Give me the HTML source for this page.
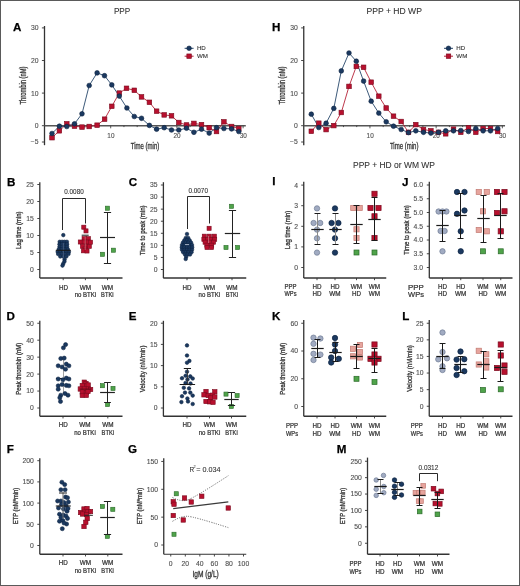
<!DOCTYPE html>
<html><head><meta charset="utf-8"><style>
html,body{margin:0;padding:0;background:#fff;}
svg{display:block;font-family:"Liberation Sans", sans-serif;will-change:transform;}
</style></head><body>
<svg width="520" height="586" viewBox="0 0 520 586" font-family='"Liberation Sans", sans-serif'>
<rect x="0" y="0" width="520" height="586" fill="#fff"/>
<text x="122.1" y="13.9" font-size="8.4" text-anchor="middle" font-weight="normal" fill="#333" textLength="16.4" lengthAdjust="spacingAndGlyphs" stroke="#333" stroke-width="0.08">PPP</text>
<text x="394.2" y="13.9" font-size="8.4" text-anchor="middle" font-weight="normal" fill="#333" textLength="55.4" lengthAdjust="spacingAndGlyphs" stroke="#333" stroke-width="0.08">PPP + HD WP</text>
<text x="394.0" y="168.0" font-size="8.4" text-anchor="middle" font-weight="normal" fill="#333" textLength="82" lengthAdjust="spacingAndGlyphs" stroke="#333" stroke-width="0.08">PPP + HD or WM WP</text>
<text x="13.1" y="31.2" font-size="11.6" font-weight="bold" fill="#000" stroke="#000" stroke-width="0.25">A</text>
<text x="272.1" y="31.2" font-size="11.6" font-weight="bold" fill="#000" stroke="#000" stroke-width="0.25">H</text>
<line x1="44.5" y1="26.0" x2="44.5" y2="145.2" stroke="#333" stroke-width="1.3"/>
<line x1="41.9" y1="27.900000000000006" x2="44.5" y2="27.900000000000006" stroke="#333" stroke-width="0.9"/>
<text x="38.6" y="30.300000000000004" font-size="6.8" text-anchor="end" font-weight="normal" fill="#505050" stroke="#505050" stroke-width="0.12">30</text>
<line x1="41.9" y1="60.500000000000014" x2="44.5" y2="60.500000000000014" stroke="#333" stroke-width="0.9"/>
<text x="38.6" y="62.90000000000001" font-size="6.8" text-anchor="end" font-weight="normal" fill="#505050" stroke="#505050" stroke-width="0.12">20</text>
<line x1="41.9" y1="93.10000000000001" x2="44.5" y2="93.10000000000001" stroke="#333" stroke-width="0.9"/>
<text x="38.6" y="95.50000000000001" font-size="6.8" text-anchor="end" font-weight="normal" fill="#505050" stroke="#505050" stroke-width="0.12">10</text>
<line x1="41.9" y1="125.7" x2="44.5" y2="125.7" stroke="#333" stroke-width="0.9"/>
<text x="38.6" y="128.1" font-size="6.8" text-anchor="end" font-weight="normal" fill="#505050" stroke="#505050" stroke-width="0.12">0</text>
<line x1="41.9" y1="142.0" x2="44.5" y2="142.0" stroke="#333" stroke-width="0.9"/>
<text x="38.6" y="144.4" font-size="6.8" text-anchor="end" font-weight="normal" fill="#505050" stroke="#505050" stroke-width="0.12">−5</text>
<line x1="44.5" y1="125.7" x2="245.8" y2="125.7" stroke="#555" stroke-width="1.4"/>
<line x1="57.74" y1="125.7" x2="57.74" y2="127.10000000000001" stroke="#333" stroke-width="0.8"/>
<line x1="70.98" y1="125.7" x2="70.98" y2="127.10000000000001" stroke="#333" stroke-width="0.8"/>
<line x1="84.22" y1="125.7" x2="84.22" y2="127.10000000000001" stroke="#333" stroke-width="0.8"/>
<line x1="97.46000000000001" y1="125.7" x2="97.46000000000001" y2="127.10000000000001" stroke="#333" stroke-width="0.8"/>
<line x1="110.7" y1="125.7" x2="110.7" y2="128.3" stroke="#333" stroke-width="0.8"/>
<line x1="123.94" y1="125.7" x2="123.94" y2="127.10000000000001" stroke="#333" stroke-width="0.8"/>
<line x1="137.18" y1="125.7" x2="137.18" y2="127.10000000000001" stroke="#333" stroke-width="0.8"/>
<line x1="150.42000000000002" y1="125.7" x2="150.42000000000002" y2="127.10000000000001" stroke="#333" stroke-width="0.8"/>
<line x1="163.66" y1="125.7" x2="163.66" y2="127.10000000000001" stroke="#333" stroke-width="0.8"/>
<line x1="176.9" y1="125.7" x2="176.9" y2="128.3" stroke="#333" stroke-width="0.8"/>
<line x1="190.14000000000001" y1="125.7" x2="190.14000000000001" y2="127.10000000000001" stroke="#333" stroke-width="0.8"/>
<line x1="203.38" y1="125.7" x2="203.38" y2="127.10000000000001" stroke="#333" stroke-width="0.8"/>
<line x1="216.62" y1="125.7" x2="216.62" y2="127.10000000000001" stroke="#333" stroke-width="0.8"/>
<line x1="229.86" y1="125.7" x2="229.86" y2="127.10000000000001" stroke="#333" stroke-width="0.8"/>
<line x1="243.1" y1="125.7" x2="243.1" y2="128.3" stroke="#333" stroke-width="0.8"/>
<text x="110.9" y="137.5" font-size="6.4" text-anchor="middle" font-weight="normal" fill="#505050" stroke="#505050" stroke-width="0.12">10</text>
<text x="177.1" y="137.5" font-size="6.4" text-anchor="middle" font-weight="normal" fill="#505050" stroke="#505050" stroke-width="0.12">20</text>
<text x="243.29999999999998" y="137.5" font-size="6.4" text-anchor="middle" font-weight="normal" fill="#505050" stroke="#505050" stroke-width="0.12">30</text>
<text x="145.0" y="149.2" font-size="8.6" text-anchor="middle" font-weight="normal" fill="#333" textLength="28.6" lengthAdjust="spacingAndGlyphs" stroke="#333" stroke-width="0.3">Time (min)</text>
<text transform="translate(26.0,85.5) rotate(-90)" x="0" y="0" font-size="8.2" text-anchor="middle" font-weight="normal" fill="#333" textLength="38" lengthAdjust="spacingAndGlyphs" stroke="#333" stroke-width="0.3">Thrombin (nM)</text>
<polyline points="52.0,137.7 59.4,130.8 66.8,123.8 74.5,126.2 82.0,127.1 89.2,126.5 97.1,125.2 104.6,119.2 111.8,106.3 119.3,93.1 126.5,88.3 134.3,90.3 141.5,96.9 149.4,102.3 156.6,111.2 164.2,114.9 171.5,115.8 178.8,122.5 186.5,125.0 193.9,123.4 201.5,124.6 209.2,127.7 216.5,131.5 223.9,121.8 231.6,126.5 238.8,128.5" fill="none" stroke="#b52238" stroke-width="0.9"/>
<polyline points="52.0,133.5 59.4,126.2 66.8,126.5 74.5,123.8 82.0,113.8 89.2,85.5 97.1,72.9 104.5,75.7 111.8,84.9 119.3,96.1 126.9,108 134.3,116.5 141.5,118.3 149.4,125.4 156.6,129.2 164.2,127.7 171.5,130 178.8,130 186.5,128.2 193.9,132.3 201.5,129.2 209.2,133.1 216.5,127.7 223.9,128.5 231.6,128.9 238.8,131.5" fill="none" stroke="#27476b" stroke-width="0.9"/>
<rect x="49.7" y="135.39999999999998" width="4.6" height="4.6" fill="#b8102e" stroke="#7a0a1e" stroke-width="0.6"/>
<rect x="57.1" y="128.5" width="4.6" height="4.6" fill="#b8102e" stroke="#7a0a1e" stroke-width="0.6"/>
<rect x="64.5" y="121.5" width="4.6" height="4.6" fill="#b8102e" stroke="#7a0a1e" stroke-width="0.6"/>
<rect x="72.2" y="123.9" width="4.6" height="4.6" fill="#b8102e" stroke="#7a0a1e" stroke-width="0.6"/>
<rect x="79.7" y="124.8" width="4.6" height="4.6" fill="#b8102e" stroke="#7a0a1e" stroke-width="0.6"/>
<rect x="86.9" y="124.2" width="4.6" height="4.6" fill="#b8102e" stroke="#7a0a1e" stroke-width="0.6"/>
<rect x="94.8" y="122.9" width="4.6" height="4.6" fill="#b8102e" stroke="#7a0a1e" stroke-width="0.6"/>
<rect x="102.3" y="116.9" width="4.6" height="4.6" fill="#b8102e" stroke="#7a0a1e" stroke-width="0.6"/>
<rect x="109.5" y="104.0" width="4.6" height="4.6" fill="#b8102e" stroke="#7a0a1e" stroke-width="0.6"/>
<rect x="117.0" y="90.8" width="4.6" height="4.6" fill="#b8102e" stroke="#7a0a1e" stroke-width="0.6"/>
<rect x="124.2" y="86.0" width="4.6" height="4.6" fill="#b8102e" stroke="#7a0a1e" stroke-width="0.6"/>
<rect x="132.0" y="88.0" width="4.6" height="4.6" fill="#b8102e" stroke="#7a0a1e" stroke-width="0.6"/>
<rect x="139.2" y="94.60000000000001" width="4.6" height="4.6" fill="#b8102e" stroke="#7a0a1e" stroke-width="0.6"/>
<rect x="147.1" y="100.0" width="4.6" height="4.6" fill="#b8102e" stroke="#7a0a1e" stroke-width="0.6"/>
<rect x="154.29999999999998" y="108.9" width="4.6" height="4.6" fill="#b8102e" stroke="#7a0a1e" stroke-width="0.6"/>
<rect x="161.89999999999998" y="112.60000000000001" width="4.6" height="4.6" fill="#b8102e" stroke="#7a0a1e" stroke-width="0.6"/>
<rect x="169.2" y="113.5" width="4.6" height="4.6" fill="#b8102e" stroke="#7a0a1e" stroke-width="0.6"/>
<rect x="176.5" y="120.2" width="4.6" height="4.6" fill="#b8102e" stroke="#7a0a1e" stroke-width="0.6"/>
<rect x="184.2" y="122.7" width="4.6" height="4.6" fill="#b8102e" stroke="#7a0a1e" stroke-width="0.6"/>
<rect x="191.6" y="121.10000000000001" width="4.6" height="4.6" fill="#b8102e" stroke="#7a0a1e" stroke-width="0.6"/>
<rect x="199.2" y="122.3" width="4.6" height="4.6" fill="#b8102e" stroke="#7a0a1e" stroke-width="0.6"/>
<rect x="206.89999999999998" y="125.4" width="4.6" height="4.6" fill="#b8102e" stroke="#7a0a1e" stroke-width="0.6"/>
<rect x="214.2" y="129.2" width="4.6" height="4.6" fill="#b8102e" stroke="#7a0a1e" stroke-width="0.6"/>
<rect x="221.6" y="119.5" width="4.6" height="4.6" fill="#b8102e" stroke="#7a0a1e" stroke-width="0.6"/>
<rect x="229.29999999999998" y="124.2" width="4.6" height="4.6" fill="#b8102e" stroke="#7a0a1e" stroke-width="0.6"/>
<rect x="236.5" y="126.2" width="4.6" height="4.6" fill="#b8102e" stroke="#7a0a1e" stroke-width="0.6"/>
<circle cx="52.0" cy="133.5" r="2.35" fill="#1b3960" stroke="#0c2240" stroke-width="0.6"/>
<circle cx="59.4" cy="126.2" r="2.35" fill="#1b3960" stroke="#0c2240" stroke-width="0.6"/>
<circle cx="66.8" cy="126.5" r="2.35" fill="#1b3960" stroke="#0c2240" stroke-width="0.6"/>
<circle cx="74.5" cy="123.8" r="2.35" fill="#1b3960" stroke="#0c2240" stroke-width="0.6"/>
<circle cx="82.0" cy="113.8" r="2.35" fill="#1b3960" stroke="#0c2240" stroke-width="0.6"/>
<circle cx="89.2" cy="85.5" r="2.35" fill="#1b3960" stroke="#0c2240" stroke-width="0.6"/>
<circle cx="97.1" cy="72.9" r="2.35" fill="#1b3960" stroke="#0c2240" stroke-width="0.6"/>
<circle cx="104.5" cy="75.7" r="2.35" fill="#1b3960" stroke="#0c2240" stroke-width="0.6"/>
<circle cx="111.8" cy="84.9" r="2.35" fill="#1b3960" stroke="#0c2240" stroke-width="0.6"/>
<circle cx="119.3" cy="96.1" r="2.35" fill="#1b3960" stroke="#0c2240" stroke-width="0.6"/>
<circle cx="126.9" cy="108" r="2.35" fill="#1b3960" stroke="#0c2240" stroke-width="0.6"/>
<circle cx="134.3" cy="116.5" r="2.35" fill="#1b3960" stroke="#0c2240" stroke-width="0.6"/>
<circle cx="141.5" cy="118.3" r="2.35" fill="#1b3960" stroke="#0c2240" stroke-width="0.6"/>
<circle cx="149.4" cy="125.4" r="2.35" fill="#1b3960" stroke="#0c2240" stroke-width="0.6"/>
<circle cx="156.6" cy="129.2" r="2.35" fill="#1b3960" stroke="#0c2240" stroke-width="0.6"/>
<circle cx="164.2" cy="127.7" r="2.35" fill="#1b3960" stroke="#0c2240" stroke-width="0.6"/>
<circle cx="171.5" cy="130" r="2.35" fill="#1b3960" stroke="#0c2240" stroke-width="0.6"/>
<circle cx="178.8" cy="130" r="2.35" fill="#1b3960" stroke="#0c2240" stroke-width="0.6"/>
<circle cx="186.5" cy="128.2" r="2.35" fill="#1b3960" stroke="#0c2240" stroke-width="0.6"/>
<circle cx="193.9" cy="132.3" r="2.35" fill="#1b3960" stroke="#0c2240" stroke-width="0.6"/>
<circle cx="201.5" cy="129.2" r="2.35" fill="#1b3960" stroke="#0c2240" stroke-width="0.6"/>
<circle cx="209.2" cy="133.1" r="2.35" fill="#1b3960" stroke="#0c2240" stroke-width="0.6"/>
<circle cx="216.5" cy="127.7" r="2.35" fill="#1b3960" stroke="#0c2240" stroke-width="0.6"/>
<circle cx="223.9" cy="128.5" r="2.35" fill="#1b3960" stroke="#0c2240" stroke-width="0.6"/>
<circle cx="231.6" cy="128.9" r="2.35" fill="#1b3960" stroke="#0c2240" stroke-width="0.6"/>
<circle cx="238.8" cy="131.5" r="2.35" fill="#1b3960" stroke="#0c2240" stroke-width="0.6"/>
<line x1="184.6" y1="48.3" x2="193.6" y2="48.3" stroke="#27476b" stroke-width="1"/>
<circle cx="189.1" cy="48.3" r="2.3" fill="#1b3960" stroke="#0c2240" stroke-width="0.6"/>
<line x1="184.6" y1="56.2" x2="193.6" y2="56.2" stroke="#b52238" stroke-width="1"/>
<rect x="186.85" y="53.95" width="4.5" height="4.5" fill="#b8102e" stroke="#7a0a1e" stroke-width="0.6"/>
<text x="196.9" y="50.2" font-size="5.9" text-anchor="start" font-weight="normal" fill="#333" textLength="8.9" lengthAdjust="spacingAndGlyphs" stroke="#333" stroke-width="0.1">HD</text>
<text x="196.9" y="58.1" font-size="5.9" text-anchor="start" font-weight="normal" fill="#333" textLength="11.0" lengthAdjust="spacingAndGlyphs" stroke="#333" stroke-width="0.1">WM</text>
<line x1="303.75" y1="26.0" x2="303.75" y2="145.2" stroke="#333" stroke-width="1.3"/>
<line x1="301.15" y1="27.900000000000006" x2="303.75" y2="27.900000000000006" stroke="#333" stroke-width="0.9"/>
<text x="297.85" y="30.300000000000004" font-size="6.8" text-anchor="end" font-weight="normal" fill="#505050" stroke="#505050" stroke-width="0.12">30</text>
<line x1="301.15" y1="60.500000000000014" x2="303.75" y2="60.500000000000014" stroke="#333" stroke-width="0.9"/>
<text x="297.85" y="62.90000000000001" font-size="6.8" text-anchor="end" font-weight="normal" fill="#505050" stroke="#505050" stroke-width="0.12">20</text>
<line x1="301.15" y1="93.10000000000001" x2="303.75" y2="93.10000000000001" stroke="#333" stroke-width="0.9"/>
<text x="297.85" y="95.50000000000001" font-size="6.8" text-anchor="end" font-weight="normal" fill="#505050" stroke="#505050" stroke-width="0.12">10</text>
<line x1="301.15" y1="125.7" x2="303.75" y2="125.7" stroke="#333" stroke-width="0.9"/>
<text x="297.85" y="128.1" font-size="6.8" text-anchor="end" font-weight="normal" fill="#505050" stroke="#505050" stroke-width="0.12">0</text>
<line x1="301.15" y1="142.0" x2="303.75" y2="142.0" stroke="#333" stroke-width="0.9"/>
<text x="297.85" y="144.4" font-size="6.8" text-anchor="end" font-weight="normal" fill="#505050" stroke="#505050" stroke-width="0.12">−5</text>
<line x1="303.75" y1="125.7" x2="505.05" y2="125.7" stroke="#555" stroke-width="1.4"/>
<line x1="316.99" y1="125.7" x2="316.99" y2="127.10000000000001" stroke="#333" stroke-width="0.8"/>
<line x1="330.23" y1="125.7" x2="330.23" y2="127.10000000000001" stroke="#333" stroke-width="0.8"/>
<line x1="343.47" y1="125.7" x2="343.47" y2="127.10000000000001" stroke="#333" stroke-width="0.8"/>
<line x1="356.71" y1="125.7" x2="356.71" y2="127.10000000000001" stroke="#333" stroke-width="0.8"/>
<line x1="369.95" y1="125.7" x2="369.95" y2="128.3" stroke="#333" stroke-width="0.8"/>
<line x1="383.19" y1="125.7" x2="383.19" y2="127.10000000000001" stroke="#333" stroke-width="0.8"/>
<line x1="396.43" y1="125.7" x2="396.43" y2="127.10000000000001" stroke="#333" stroke-width="0.8"/>
<line x1="409.67" y1="125.7" x2="409.67" y2="127.10000000000001" stroke="#333" stroke-width="0.8"/>
<line x1="422.90999999999997" y1="125.7" x2="422.90999999999997" y2="127.10000000000001" stroke="#333" stroke-width="0.8"/>
<line x1="436.15" y1="125.7" x2="436.15" y2="128.3" stroke="#333" stroke-width="0.8"/>
<line x1="449.39" y1="125.7" x2="449.39" y2="127.10000000000001" stroke="#333" stroke-width="0.8"/>
<line x1="462.63" y1="125.7" x2="462.63" y2="127.10000000000001" stroke="#333" stroke-width="0.8"/>
<line x1="475.87" y1="125.7" x2="475.87" y2="127.10000000000001" stroke="#333" stroke-width="0.8"/>
<line x1="489.11" y1="125.7" x2="489.11" y2="127.10000000000001" stroke="#333" stroke-width="0.8"/>
<line x1="502.35" y1="125.7" x2="502.35" y2="128.3" stroke="#333" stroke-width="0.8"/>
<text x="370.15" y="137.5" font-size="6.4" text-anchor="middle" font-weight="normal" fill="#505050" stroke="#505050" stroke-width="0.12">10</text>
<text x="436.34999999999997" y="137.5" font-size="6.4" text-anchor="middle" font-weight="normal" fill="#505050" stroke="#505050" stroke-width="0.12">20</text>
<text x="502.55" y="137.5" font-size="6.4" text-anchor="middle" font-weight="normal" fill="#505050" stroke="#505050" stroke-width="0.12">30</text>
<text x="404.2" y="149.2" font-size="8.6" text-anchor="middle" font-weight="normal" fill="#333" textLength="28.6" lengthAdjust="spacingAndGlyphs" stroke="#333" stroke-width="0.3">Time (min)</text>
<text transform="translate(285.25,85.5) rotate(-90)" x="0" y="0" font-size="8.2" text-anchor="middle" font-weight="normal" fill="#333" textLength="38" lengthAdjust="spacingAndGlyphs" stroke="#333" stroke-width="0.3">Thrombin (nM)</text>
<polyline points="311.3,131.3 318.8,123.2 326.1,129.6 333.8,125.6 341.3,112.5 349,86.4 356.3,66.4 363.6,67.3 371.2,82.2 378.8,96.2 386.2,108 393.5,116.2 401.2,121.5 408.5,132.3 415.8,124.6 423.5,129.5 430.9,130.8 438.5,132.3 445.7,133.8 453.5,129.2 460.8,132.3 468.5,127.7 475.8,132.3 483.1,128.5 490.5,128.5 497.7,131.5" fill="none" stroke="#b52238" stroke-width="0.9"/>
<polyline points="311.3,114.2 318.8,127.5 326.1,123.2 333.8,108.4 341.3,70.9 349,53 356.3,61.2 363.6,81.1 371.2,101.2 378.8,113.1 386.2,121.8 393.5,126.2 401.2,129.5 408.5,132.6 415.8,130.8 423.5,132.3 430.9,133.1 438.5,132.3 445.7,130.8 453.5,130.8 460.8,130.5 468.5,131.5 475.8,128.5 483.1,130.8 490.5,130.8 497.7,128.5" fill="none" stroke="#27476b" stroke-width="0.9"/>
<rect x="309.0" y="129.0" width="4.6" height="4.6" fill="#b8102e" stroke="#7a0a1e" stroke-width="0.6"/>
<rect x="316.5" y="120.9" width="4.6" height="4.6" fill="#b8102e" stroke="#7a0a1e" stroke-width="0.6"/>
<rect x="323.8" y="127.3" width="4.6" height="4.6" fill="#b8102e" stroke="#7a0a1e" stroke-width="0.6"/>
<rect x="331.5" y="123.3" width="4.6" height="4.6" fill="#b8102e" stroke="#7a0a1e" stroke-width="0.6"/>
<rect x="339.0" y="110.2" width="4.6" height="4.6" fill="#b8102e" stroke="#7a0a1e" stroke-width="0.6"/>
<rect x="346.7" y="84.10000000000001" width="4.6" height="4.6" fill="#b8102e" stroke="#7a0a1e" stroke-width="0.6"/>
<rect x="354.0" y="64.10000000000001" width="4.6" height="4.6" fill="#b8102e" stroke="#7a0a1e" stroke-width="0.6"/>
<rect x="361.3" y="65.0" width="4.6" height="4.6" fill="#b8102e" stroke="#7a0a1e" stroke-width="0.6"/>
<rect x="368.9" y="79.9" width="4.6" height="4.6" fill="#b8102e" stroke="#7a0a1e" stroke-width="0.6"/>
<rect x="376.5" y="93.9" width="4.6" height="4.6" fill="#b8102e" stroke="#7a0a1e" stroke-width="0.6"/>
<rect x="383.9" y="105.7" width="4.6" height="4.6" fill="#b8102e" stroke="#7a0a1e" stroke-width="0.6"/>
<rect x="391.2" y="113.9" width="4.6" height="4.6" fill="#b8102e" stroke="#7a0a1e" stroke-width="0.6"/>
<rect x="398.9" y="119.2" width="4.6" height="4.6" fill="#b8102e" stroke="#7a0a1e" stroke-width="0.6"/>
<rect x="406.2" y="130.0" width="4.6" height="4.6" fill="#b8102e" stroke="#7a0a1e" stroke-width="0.6"/>
<rect x="413.5" y="122.3" width="4.6" height="4.6" fill="#b8102e" stroke="#7a0a1e" stroke-width="0.6"/>
<rect x="421.2" y="127.2" width="4.6" height="4.6" fill="#b8102e" stroke="#7a0a1e" stroke-width="0.6"/>
<rect x="428.59999999999997" y="128.5" width="4.6" height="4.6" fill="#b8102e" stroke="#7a0a1e" stroke-width="0.6"/>
<rect x="436.2" y="130.0" width="4.6" height="4.6" fill="#b8102e" stroke="#7a0a1e" stroke-width="0.6"/>
<rect x="443.4" y="131.5" width="4.6" height="4.6" fill="#b8102e" stroke="#7a0a1e" stroke-width="0.6"/>
<rect x="451.2" y="126.89999999999999" width="4.6" height="4.6" fill="#b8102e" stroke="#7a0a1e" stroke-width="0.6"/>
<rect x="458.5" y="130.0" width="4.6" height="4.6" fill="#b8102e" stroke="#7a0a1e" stroke-width="0.6"/>
<rect x="466.2" y="125.4" width="4.6" height="4.6" fill="#b8102e" stroke="#7a0a1e" stroke-width="0.6"/>
<rect x="473.5" y="130.0" width="4.6" height="4.6" fill="#b8102e" stroke="#7a0a1e" stroke-width="0.6"/>
<rect x="480.8" y="126.2" width="4.6" height="4.6" fill="#b8102e" stroke="#7a0a1e" stroke-width="0.6"/>
<rect x="488.2" y="126.2" width="4.6" height="4.6" fill="#b8102e" stroke="#7a0a1e" stroke-width="0.6"/>
<rect x="495.4" y="129.2" width="4.6" height="4.6" fill="#b8102e" stroke="#7a0a1e" stroke-width="0.6"/>
<circle cx="311.3" cy="114.2" r="2.35" fill="#1b3960" stroke="#0c2240" stroke-width="0.6"/>
<circle cx="318.8" cy="127.5" r="2.35" fill="#1b3960" stroke="#0c2240" stroke-width="0.6"/>
<circle cx="326.1" cy="123.2" r="2.35" fill="#1b3960" stroke="#0c2240" stroke-width="0.6"/>
<circle cx="333.8" cy="108.4" r="2.35" fill="#1b3960" stroke="#0c2240" stroke-width="0.6"/>
<circle cx="341.3" cy="70.9" r="2.35" fill="#1b3960" stroke="#0c2240" stroke-width="0.6"/>
<circle cx="349" cy="53" r="2.35" fill="#1b3960" stroke="#0c2240" stroke-width="0.6"/>
<circle cx="356.3" cy="61.2" r="2.35" fill="#1b3960" stroke="#0c2240" stroke-width="0.6"/>
<circle cx="363.6" cy="81.1" r="2.35" fill="#1b3960" stroke="#0c2240" stroke-width="0.6"/>
<circle cx="371.2" cy="101.2" r="2.35" fill="#1b3960" stroke="#0c2240" stroke-width="0.6"/>
<circle cx="378.8" cy="113.1" r="2.35" fill="#1b3960" stroke="#0c2240" stroke-width="0.6"/>
<circle cx="386.2" cy="121.8" r="2.35" fill="#1b3960" stroke="#0c2240" stroke-width="0.6"/>
<circle cx="393.5" cy="126.2" r="2.35" fill="#1b3960" stroke="#0c2240" stroke-width="0.6"/>
<circle cx="401.2" cy="129.5" r="2.35" fill="#1b3960" stroke="#0c2240" stroke-width="0.6"/>
<circle cx="408.5" cy="132.6" r="2.35" fill="#1b3960" stroke="#0c2240" stroke-width="0.6"/>
<circle cx="415.8" cy="130.8" r="2.35" fill="#1b3960" stroke="#0c2240" stroke-width="0.6"/>
<circle cx="423.5" cy="132.3" r="2.35" fill="#1b3960" stroke="#0c2240" stroke-width="0.6"/>
<circle cx="430.9" cy="133.1" r="2.35" fill="#1b3960" stroke="#0c2240" stroke-width="0.6"/>
<circle cx="438.5" cy="132.3" r="2.35" fill="#1b3960" stroke="#0c2240" stroke-width="0.6"/>
<circle cx="445.7" cy="130.8" r="2.35" fill="#1b3960" stroke="#0c2240" stroke-width="0.6"/>
<circle cx="453.5" cy="130.8" r="2.35" fill="#1b3960" stroke="#0c2240" stroke-width="0.6"/>
<circle cx="460.8" cy="130.5" r="2.35" fill="#1b3960" stroke="#0c2240" stroke-width="0.6"/>
<circle cx="468.5" cy="131.5" r="2.35" fill="#1b3960" stroke="#0c2240" stroke-width="0.6"/>
<circle cx="475.8" cy="128.5" r="2.35" fill="#1b3960" stroke="#0c2240" stroke-width="0.6"/>
<circle cx="483.1" cy="130.8" r="2.35" fill="#1b3960" stroke="#0c2240" stroke-width="0.6"/>
<circle cx="490.5" cy="130.8" r="2.35" fill="#1b3960" stroke="#0c2240" stroke-width="0.6"/>
<circle cx="497.7" cy="128.5" r="2.35" fill="#1b3960" stroke="#0c2240" stroke-width="0.6"/>
<line x1="444.0" y1="48.3" x2="453.0" y2="48.3" stroke="#27476b" stroke-width="1"/>
<circle cx="448.5" cy="48.3" r="2.3" fill="#1b3960" stroke="#0c2240" stroke-width="0.6"/>
<line x1="444.0" y1="56.2" x2="453.0" y2="56.2" stroke="#b52238" stroke-width="1"/>
<rect x="446.25" y="53.95" width="4.5" height="4.5" fill="#b8102e" stroke="#7a0a1e" stroke-width="0.6"/>
<text x="456.3" y="50.2" font-size="5.9" text-anchor="start" font-weight="normal" fill="#333" textLength="8.9" lengthAdjust="spacingAndGlyphs" stroke="#333" stroke-width="0.1">HD</text>
<text x="456.3" y="58.1" font-size="5.9" text-anchor="start" font-weight="normal" fill="#333" textLength="11.0" lengthAdjust="spacingAndGlyphs" stroke="#333" stroke-width="0.1">WM</text>
<text x="6.9" y="185.8" font-size="11.6" font-weight="bold" fill="#000" stroke="#000" stroke-width="0.25">B</text>
<line x1="39.8" y1="182.2" x2="39.8" y2="278" stroke="#333" stroke-width="1.3"/>
<line x1="37.3" y1="269.5" x2="39.8" y2="269.5" stroke="#333" stroke-width="0.9"/>
<text x="33.75" y="271.9" font-size="6.8" text-anchor="end" font-weight="normal" fill="#505050" stroke="#505050" stroke-width="0.12">0</text>
<line x1="37.3" y1="252.5" x2="39.8" y2="252.5" stroke="#333" stroke-width="0.9"/>
<text x="33.75" y="254.9" font-size="6.8" text-anchor="end" font-weight="normal" fill="#505050" stroke="#505050" stroke-width="0.12">5</text>
<line x1="37.3" y1="235.5" x2="39.8" y2="235.5" stroke="#333" stroke-width="0.9"/>
<text x="33.75" y="237.9" font-size="6.8" text-anchor="end" font-weight="normal" fill="#505050" stroke="#505050" stroke-width="0.12">10</text>
<line x1="37.3" y1="218.5" x2="39.8" y2="218.5" stroke="#333" stroke-width="0.9"/>
<text x="33.75" y="220.9" font-size="6.8" text-anchor="end" font-weight="normal" fill="#505050" stroke="#505050" stroke-width="0.12">15</text>
<line x1="37.3" y1="201.5" x2="39.8" y2="201.5" stroke="#333" stroke-width="0.9"/>
<text x="33.75" y="203.9" font-size="6.8" text-anchor="end" font-weight="normal" fill="#505050" stroke="#505050" stroke-width="0.12">20</text>
<line x1="37.3" y1="184.5" x2="39.8" y2="184.5" stroke="#333" stroke-width="0.9"/>
<text x="33.75" y="186.9" font-size="6.8" text-anchor="end" font-weight="normal" fill="#505050" stroke="#505050" stroke-width="0.12">25</text>
<line x1="39.8" y1="278" x2="122.5" y2="278" stroke="#333" stroke-width="1.3"/>
<line x1="63.2" y1="278" x2="63.2" y2="280.2" stroke="#333" stroke-width="0.9"/>
<line x1="85.4" y1="278" x2="85.4" y2="280.2" stroke="#333" stroke-width="0.9"/>
<line x1="107.5" y1="278" x2="107.5" y2="280.2" stroke="#333" stroke-width="0.9"/>
<text x="63.4" y="289.5" font-size="6.3" text-anchor="middle" font-weight="normal" fill="#333" textLength="9.0" lengthAdjust="spacingAndGlyphs" stroke="#333" stroke-width="0.22">HD</text>
<text x="85.4" y="289.5" font-size="6.3" text-anchor="middle" font-weight="normal" fill="#333" textLength="11.3" lengthAdjust="spacingAndGlyphs" stroke="#333" stroke-width="0.22">WM</text>
<text x="107.3" y="289.5" font-size="6.3" text-anchor="middle" font-weight="normal" fill="#333" textLength="11.3" lengthAdjust="spacingAndGlyphs" stroke="#333" stroke-width="0.22">WM</text>
<text x="85.4" y="296.8" font-size="6.3" text-anchor="middle" font-weight="normal" fill="#333" textLength="21.5" lengthAdjust="spacingAndGlyphs" stroke="#333" stroke-width="0.22">no BTKi</text>
<text x="107.3" y="296.8" font-size="6.3" text-anchor="middle" font-weight="normal" fill="#333" textLength="12.5" lengthAdjust="spacingAndGlyphs" stroke="#333" stroke-width="0.22">BTKi</text>
<text transform="translate(21.4,230.3) rotate(-90)" x="0" y="0" font-size="7.9" text-anchor="middle" font-weight="normal" fill="#333" textLength="37.6" lengthAdjust="spacingAndGlyphs" stroke="#333" stroke-width="0.3">Lag time (min)</text>
<polyline points="62.5,230.0 62.5,198.5 85.5,198.5 85.5,223.5" fill="none" stroke="#2a2a2a" stroke-width="1.0"/>
<text x="74.0" y="193.9" font-size="6.4" text-anchor="middle" font-weight="normal" fill="#333" textLength="19.4" lengthAdjust="spacingAndGlyphs" stroke="#333" stroke-width="0.1">0.0080</text>
<circle cx="63.3" cy="235.1" r="1.8" fill="#1b3960" stroke="#0c2240" stroke-width="0.55"/>
<circle cx="59.699999999999996" cy="241.8" r="1.8" fill="#1b3960" stroke="#0c2240" stroke-width="0.55"/>
<circle cx="62.099999999999994" cy="241.8" r="1.8" fill="#1b3960" stroke="#0c2240" stroke-width="0.55"/>
<circle cx="64.5" cy="241.8" r="1.8" fill="#1b3960" stroke="#0c2240" stroke-width="0.55"/>
<circle cx="66.89999999999999" cy="241.8" r="1.8" fill="#1b3960" stroke="#0c2240" stroke-width="0.55"/>
<circle cx="59.5" cy="244.3" r="1.8" fill="#1b3960" stroke="#0c2240" stroke-width="0.55"/>
<circle cx="62.0" cy="244.3" r="1.8" fill="#1b3960" stroke="#0c2240" stroke-width="0.55"/>
<circle cx="64.6" cy="244.3" r="1.8" fill="#1b3960" stroke="#0c2240" stroke-width="0.55"/>
<circle cx="67.1" cy="244.3" r="1.8" fill="#1b3960" stroke="#0c2240" stroke-width="0.55"/>
<circle cx="59.5" cy="246.8" r="1.8" fill="#1b3960" stroke="#0c2240" stroke-width="0.55"/>
<circle cx="62.0" cy="246.8" r="1.8" fill="#1b3960" stroke="#0c2240" stroke-width="0.55"/>
<circle cx="64.6" cy="246.8" r="1.8" fill="#1b3960" stroke="#0c2240" stroke-width="0.55"/>
<circle cx="67.1" cy="246.8" r="1.8" fill="#1b3960" stroke="#0c2240" stroke-width="0.55"/>
<circle cx="58.8" cy="249.3" r="1.8" fill="#1b3960" stroke="#0c2240" stroke-width="0.55"/>
<circle cx="61.8" cy="249.3" r="1.8" fill="#1b3960" stroke="#0c2240" stroke-width="0.55"/>
<circle cx="64.8" cy="249.3" r="1.8" fill="#1b3960" stroke="#0c2240" stroke-width="0.55"/>
<circle cx="67.8" cy="249.3" r="1.8" fill="#1b3960" stroke="#0c2240" stroke-width="0.55"/>
<circle cx="57.699999999999996" cy="251.8" r="1.8" fill="#1b3960" stroke="#0c2240" stroke-width="0.55"/>
<circle cx="60.5" cy="251.8" r="1.8" fill="#1b3960" stroke="#0c2240" stroke-width="0.55"/>
<circle cx="63.3" cy="251.8" r="1.8" fill="#1b3960" stroke="#0c2240" stroke-width="0.55"/>
<circle cx="66.1" cy="251.8" r="1.8" fill="#1b3960" stroke="#0c2240" stroke-width="0.55"/>
<circle cx="68.89999999999999" cy="251.8" r="1.8" fill="#1b3960" stroke="#0c2240" stroke-width="0.55"/>
<circle cx="58.099999999999994" cy="254.0" r="1.8" fill="#1b3960" stroke="#0c2240" stroke-width="0.55"/>
<circle cx="61.599999999999994" cy="254.0" r="1.8" fill="#1b3960" stroke="#0c2240" stroke-width="0.55"/>
<circle cx="65.0" cy="254.0" r="1.8" fill="#1b3960" stroke="#0c2240" stroke-width="0.55"/>
<circle cx="68.5" cy="254.0" r="1.8" fill="#1b3960" stroke="#0c2240" stroke-width="0.55"/>
<circle cx="60.3" cy="256.5" r="1.8" fill="#1b3960" stroke="#0c2240" stroke-width="0.55"/>
<circle cx="63.3" cy="256.5" r="1.8" fill="#1b3960" stroke="#0c2240" stroke-width="0.55"/>
<circle cx="66.3" cy="256.5" r="1.8" fill="#1b3960" stroke="#0c2240" stroke-width="0.55"/>
<circle cx="64.6" cy="259.5" r="1.8" fill="#1b3960" stroke="#0c2240" stroke-width="0.55"/>
<circle cx="64.4" cy="261.6" r="1.8" fill="#1b3960" stroke="#0c2240" stroke-width="0.55"/>
<circle cx="63.2" cy="263.8" r="1.8" fill="#1b3960" stroke="#0c2240" stroke-width="0.55"/>
<circle cx="62.5" cy="265.6" r="1.8" fill="#1b3960" stroke="#0c2240" stroke-width="0.55"/>
<line x1="63.3" y1="242.8" x2="63.3" y2="257.8" stroke="#5a6f90" stroke-width="0.7"/>
<line x1="55.8" y1="250.3" x2="70.8" y2="250.3" stroke="#1a1a1a" stroke-width="1.1"/>
<rect x="81.75" y="225.14999999999998" width="4.1" height="4.1" fill="#b8102e" stroke="#7a0a1e" stroke-width="0.6"/>
<rect x="83.95" y="228.85" width="4.1" height="4.1" fill="#b8102e" stroke="#7a0a1e" stroke-width="0.6"/>
<rect x="82.05" y="236.54999999999998" width="4.1" height="4.1" fill="#b8102e" stroke="#7a0a1e" stroke-width="0.6"/>
<rect x="86.35000000000001" y="236.54999999999998" width="4.1" height="4.1" fill="#b8102e" stroke="#7a0a1e" stroke-width="0.6"/>
<rect x="78.25" y="239.95" width="4.1" height="4.1" fill="#b8102e" stroke="#7a0a1e" stroke-width="0.6"/>
<rect x="82.15" y="239.95" width="4.1" height="4.1" fill="#b8102e" stroke="#7a0a1e" stroke-width="0.6"/>
<rect x="85.95" y="239.95" width="4.1" height="4.1" fill="#b8102e" stroke="#7a0a1e" stroke-width="0.6"/>
<rect x="88.45" y="240.14999999999998" width="4.1" height="4.1" fill="#b8102e" stroke="#7a0a1e" stroke-width="0.6"/>
<rect x="80.45" y="244.14999999999998" width="4.1" height="4.1" fill="#b8102e" stroke="#7a0a1e" stroke-width="0.6"/>
<rect x="84.45" y="244.14999999999998" width="4.1" height="4.1" fill="#b8102e" stroke="#7a0a1e" stroke-width="0.6"/>
<rect x="87.25" y="244.35" width="4.1" height="4.1" fill="#b8102e" stroke="#7a0a1e" stroke-width="0.6"/>
<rect x="82.95" y="246.95" width="4.1" height="4.1" fill="#b8102e" stroke="#7a0a1e" stroke-width="0.6"/>
<rect x="81.45" y="248.75" width="4.1" height="4.1" fill="#b8102e" stroke="#7a0a1e" stroke-width="0.6"/>
<rect x="84.95" y="248.95" width="4.1" height="4.1" fill="#b8102e" stroke="#7a0a1e" stroke-width="0.6"/>
<line x1="85.2" y1="237.0" x2="85.2" y2="250.0" stroke="#d89098" stroke-width="0.6"/>
<line x1="81.7" y1="235.2" x2="88.7" y2="235.2" stroke="#1a1a1a" stroke-width="1.0"/>
<rect x="105.35000000000001" y="206.14999999999998" width="4.1" height="4.1" fill="#4fa34a" stroke="#2a6a28" stroke-width="0.6"/>
<rect x="100.45" y="252.25" width="4.1" height="4.1" fill="#4fa34a" stroke="#2a6a28" stroke-width="0.6"/>
<rect x="111.35000000000001" y="248.14999999999998" width="4.1" height="4.1" fill="#4fa34a" stroke="#2a6a28" stroke-width="0.6"/>
<line x1="107.5" y1="212.5" x2="107.5" y2="263.5" stroke="#222" stroke-width="1.0"/>
<line x1="103.9" y1="212.5" x2="111.1" y2="212.5" stroke="#222" stroke-width="1.0"/>
<line x1="103.9" y1="263.5" x2="111.1" y2="263.5" stroke="#222" stroke-width="1.0"/>
<line x1="100.0" y1="237.5" x2="115.0" y2="237.5" stroke="#222" stroke-width="1.2"/>
<text x="128.7" y="185.8" font-size="11.6" font-weight="bold" fill="#000" stroke="#000" stroke-width="0.25">C</text>
<line x1="163.4" y1="182.2" x2="163.4" y2="278" stroke="#333" stroke-width="1.3"/>
<line x1="160.9" y1="269.5" x2="163.4" y2="269.5" stroke="#333" stroke-width="0.9"/>
<text x="157.5" y="271.9" font-size="6.8" text-anchor="end" font-weight="normal" fill="#505050" stroke="#505050" stroke-width="0.12">0</text>
<line x1="160.9" y1="257.43" x2="163.4" y2="257.43" stroke="#333" stroke-width="0.9"/>
<text x="157.5" y="259.83" font-size="6.8" text-anchor="end" font-weight="normal" fill="#505050" stroke="#505050" stroke-width="0.12">5</text>
<line x1="160.9" y1="245.36" x2="163.4" y2="245.36" stroke="#333" stroke-width="0.9"/>
<text x="157.5" y="247.76000000000002" font-size="6.8" text-anchor="end" font-weight="normal" fill="#505050" stroke="#505050" stroke-width="0.12">10</text>
<line x1="160.9" y1="233.29" x2="163.4" y2="233.29" stroke="#333" stroke-width="0.9"/>
<text x="157.5" y="235.69" font-size="6.8" text-anchor="end" font-weight="normal" fill="#505050" stroke="#505050" stroke-width="0.12">15</text>
<line x1="160.9" y1="221.22" x2="163.4" y2="221.22" stroke="#333" stroke-width="0.9"/>
<text x="157.5" y="223.62" font-size="6.8" text-anchor="end" font-weight="normal" fill="#505050" stroke="#505050" stroke-width="0.12">20</text>
<line x1="160.9" y1="209.15" x2="163.4" y2="209.15" stroke="#333" stroke-width="0.9"/>
<text x="157.5" y="211.55" font-size="6.8" text-anchor="end" font-weight="normal" fill="#505050" stroke="#505050" stroke-width="0.12">25</text>
<line x1="160.9" y1="197.07999999999998" x2="163.4" y2="197.07999999999998" stroke="#333" stroke-width="0.9"/>
<text x="157.5" y="199.48" font-size="6.8" text-anchor="end" font-weight="normal" fill="#505050" stroke="#505050" stroke-width="0.12">30</text>
<line x1="160.9" y1="185.01" x2="163.4" y2="185.01" stroke="#333" stroke-width="0.9"/>
<text x="157.5" y="187.41" font-size="6.8" text-anchor="end" font-weight="normal" fill="#505050" stroke="#505050" stroke-width="0.12">35</text>
<line x1="163.25" y1="278" x2="246.25" y2="278" stroke="#333" stroke-width="1.3"/>
<line x1="187.0" y1="278" x2="187.0" y2="280.2" stroke="#333" stroke-width="0.9"/>
<line x1="209.3" y1="278" x2="209.3" y2="280.2" stroke="#333" stroke-width="0.9"/>
<line x1="232.0" y1="278" x2="232.0" y2="280.2" stroke="#333" stroke-width="0.9"/>
<text x="187.0" y="289.5" font-size="6.3" text-anchor="middle" font-weight="normal" fill="#333" textLength="9.0" lengthAdjust="spacingAndGlyphs" stroke="#333" stroke-width="0.22">HD</text>
<text x="209.3" y="289.5" font-size="6.3" text-anchor="middle" font-weight="normal" fill="#333" textLength="11.3" lengthAdjust="spacingAndGlyphs" stroke="#333" stroke-width="0.22">WM</text>
<text x="232.0" y="289.5" font-size="6.3" text-anchor="middle" font-weight="normal" fill="#333" textLength="11.3" lengthAdjust="spacingAndGlyphs" stroke="#333" stroke-width="0.22">WM</text>
<text x="209.3" y="296.8" font-size="6.3" text-anchor="middle" font-weight="normal" fill="#333" textLength="21.5" lengthAdjust="spacingAndGlyphs" stroke="#333" stroke-width="0.22">no BTKi</text>
<text x="232.0" y="296.8" font-size="6.3" text-anchor="middle" font-weight="normal" fill="#333" textLength="12.5" lengthAdjust="spacingAndGlyphs" stroke="#333" stroke-width="0.22">BTKi</text>
<text transform="translate(145.2,230.4) rotate(-90)" x="0" y="0" font-size="7.9" text-anchor="middle" font-weight="normal" fill="#333" textLength="49.8" lengthAdjust="spacingAndGlyphs" stroke="#333" stroke-width="0.3">Time to peak (min)</text>
<polyline points="187.5,229.0 187.5,196.5 209.5,196.5 209.5,223.5" fill="none" stroke="#2a2a2a" stroke-width="1.0"/>
<text x="198.2" y="193.2" font-size="6.4" text-anchor="middle" font-weight="normal" fill="#333" textLength="19.5" lengthAdjust="spacingAndGlyphs" stroke="#333" stroke-width="0.1">0.0070</text>
<circle cx="187.0" cy="234.0" r="1.8" fill="#1b3960" stroke="#0c2240" stroke-width="0.55"/>
<circle cx="185.8" cy="238.0" r="1.8" fill="#1b3960" stroke="#0c2240" stroke-width="0.55"/>
<circle cx="188.2" cy="238.0" r="1.8" fill="#1b3960" stroke="#0c2240" stroke-width="0.55"/>
<circle cx="184.4" cy="240.3" r="1.8" fill="#1b3960" stroke="#0c2240" stroke-width="0.55"/>
<circle cx="187.0" cy="240.3" r="1.8" fill="#1b3960" stroke="#0c2240" stroke-width="0.55"/>
<circle cx="189.6" cy="240.3" r="1.8" fill="#1b3960" stroke="#0c2240" stroke-width="0.55"/>
<circle cx="183.0" cy="242.6" r="1.8" fill="#1b3960" stroke="#0c2240" stroke-width="0.55"/>
<circle cx="185.7" cy="242.6" r="1.8" fill="#1b3960" stroke="#0c2240" stroke-width="0.55"/>
<circle cx="188.3" cy="242.6" r="1.8" fill="#1b3960" stroke="#0c2240" stroke-width="0.55"/>
<circle cx="191.0" cy="242.6" r="1.8" fill="#1b3960" stroke="#0c2240" stroke-width="0.55"/>
<circle cx="182.0" cy="245.0" r="1.8" fill="#1b3960" stroke="#0c2240" stroke-width="0.55"/>
<circle cx="184.5" cy="245.0" r="1.8" fill="#1b3960" stroke="#0c2240" stroke-width="0.55"/>
<circle cx="187.0" cy="245.0" r="1.8" fill="#1b3960" stroke="#0c2240" stroke-width="0.55"/>
<circle cx="189.5" cy="245.0" r="1.8" fill="#1b3960" stroke="#0c2240" stroke-width="0.55"/>
<circle cx="192.0" cy="245.0" r="1.8" fill="#1b3960" stroke="#0c2240" stroke-width="0.55"/>
<circle cx="181.8" cy="247.4" r="1.8" fill="#1b3960" stroke="#0c2240" stroke-width="0.55"/>
<circle cx="184.4" cy="247.4" r="1.8" fill="#1b3960" stroke="#0c2240" stroke-width="0.55"/>
<circle cx="187.0" cy="247.4" r="1.8" fill="#1b3960" stroke="#0c2240" stroke-width="0.55"/>
<circle cx="189.6" cy="247.4" r="1.8" fill="#1b3960" stroke="#0c2240" stroke-width="0.55"/>
<circle cx="192.2" cy="247.4" r="1.8" fill="#1b3960" stroke="#0c2240" stroke-width="0.55"/>
<circle cx="182.0" cy="249.8" r="1.8" fill="#1b3960" stroke="#0c2240" stroke-width="0.55"/>
<circle cx="184.5" cy="249.8" r="1.8" fill="#1b3960" stroke="#0c2240" stroke-width="0.55"/>
<circle cx="187.0" cy="249.8" r="1.8" fill="#1b3960" stroke="#0c2240" stroke-width="0.55"/>
<circle cx="189.5" cy="249.8" r="1.8" fill="#1b3960" stroke="#0c2240" stroke-width="0.55"/>
<circle cx="192.0" cy="249.8" r="1.8" fill="#1b3960" stroke="#0c2240" stroke-width="0.55"/>
<circle cx="183.2" cy="252.2" r="1.8" fill="#1b3960" stroke="#0c2240" stroke-width="0.55"/>
<circle cx="185.7" cy="252.2" r="1.8" fill="#1b3960" stroke="#0c2240" stroke-width="0.55"/>
<circle cx="188.3" cy="252.2" r="1.8" fill="#1b3960" stroke="#0c2240" stroke-width="0.55"/>
<circle cx="191.5" cy="252.2" r="1.8" fill="#1b3960" stroke="#0c2240" stroke-width="0.55"/>
<circle cx="185.0" cy="254.5" r="1.8" fill="#1b3960" stroke="#0c2240" stroke-width="0.55"/>
<circle cx="187.5" cy="254.5" r="1.8" fill="#1b3960" stroke="#0c2240" stroke-width="0.55"/>
<circle cx="190.0" cy="254.5" r="1.8" fill="#1b3960" stroke="#0c2240" stroke-width="0.55"/>
<circle cx="186.2" cy="256.8" r="1.8" fill="#1b3960" stroke="#0c2240" stroke-width="0.55"/>
<circle cx="185.7" cy="259.0" r="1.8" fill="#1b3960" stroke="#0c2240" stroke-width="0.55"/>
<line x1="185.0" y1="244.6" x2="189.0" y2="244.6" stroke="#c8d0e0" stroke-width="0.8"/>
<rect x="207.04999999999998" y="226.25" width="4.1" height="4.1" fill="#b8102e" stroke="#7a0a1e" stroke-width="0.6"/>
<rect x="202.25" y="234.14999999999998" width="4.1" height="4.1" fill="#b8102e" stroke="#7a0a1e" stroke-width="0.6"/>
<rect x="207.25" y="234.14999999999998" width="4.1" height="4.1" fill="#b8102e" stroke="#7a0a1e" stroke-width="0.6"/>
<rect x="212.25" y="234.14999999999998" width="4.1" height="4.1" fill="#b8102e" stroke="#7a0a1e" stroke-width="0.6"/>
<rect x="201.85" y="237.25" width="4.1" height="4.1" fill="#b8102e" stroke="#7a0a1e" stroke-width="0.6"/>
<rect x="205.45" y="237.25" width="4.1" height="4.1" fill="#b8102e" stroke="#7a0a1e" stroke-width="0.6"/>
<rect x="209.05" y="237.25" width="4.1" height="4.1" fill="#b8102e" stroke="#7a0a1e" stroke-width="0.6"/>
<rect x="212.65" y="237.25" width="4.1" height="4.1" fill="#b8102e" stroke="#7a0a1e" stroke-width="0.6"/>
<rect x="203.05" y="240.14999999999998" width="4.1" height="4.1" fill="#b8102e" stroke="#7a0a1e" stroke-width="0.6"/>
<rect x="207.25" y="240.14999999999998" width="4.1" height="4.1" fill="#b8102e" stroke="#7a0a1e" stroke-width="0.6"/>
<rect x="211.45" y="240.14999999999998" width="4.1" height="4.1" fill="#b8102e" stroke="#7a0a1e" stroke-width="0.6"/>
<rect x="204.85" y="243.14999999999998" width="4.1" height="4.1" fill="#b8102e" stroke="#7a0a1e" stroke-width="0.6"/>
<rect x="209.65" y="243.14999999999998" width="4.1" height="4.1" fill="#b8102e" stroke="#7a0a1e" stroke-width="0.6"/>
<rect x="204.95" y="245.45" width="4.1" height="4.1" fill="#b8102e" stroke="#7a0a1e" stroke-width="0.6"/>
<rect x="209.55" y="245.45" width="4.1" height="4.1" fill="#b8102e" stroke="#7a0a1e" stroke-width="0.6"/>
<line x1="208.6" y1="236.0" x2="208.6" y2="243.0" stroke="#e0a0a8" stroke-width="0.6"/>
<rect x="229.45" y="204.25" width="4.1" height="4.1" fill="#4fa34a" stroke="#2a6a28" stroke-width="0.6"/>
<rect x="223.95" y="245.45" width="4.1" height="4.1" fill="#4fa34a" stroke="#2a6a28" stroke-width="0.6"/>
<rect x="235.54999999999998" y="245.45" width="4.1" height="4.1" fill="#4fa34a" stroke="#2a6a28" stroke-width="0.6"/>
<line x1="232.5" y1="210.5" x2="232.5" y2="257.5" stroke="#222" stroke-width="1.0"/>
<line x1="228.9" y1="210.5" x2="236.1" y2="210.5" stroke="#222" stroke-width="1.0"/>
<line x1="228.9" y1="257.5" x2="236.1" y2="257.5" stroke="#222" stroke-width="1.0"/>
<line x1="224.8" y1="233.5" x2="240.2" y2="233.5" stroke="#222" stroke-width="1.2"/>
<text x="6.5" y="319.79999999999995" font-size="11.6" font-weight="bold" fill="#000" stroke="#000" stroke-width="0.25">D</text>
<line x1="39.8" y1="320.8" x2="39.8" y2="416.25" stroke="#333" stroke-width="1.3"/>
<line x1="37.3" y1="408.0" x2="39.8" y2="408.0" stroke="#333" stroke-width="0.9"/>
<text x="33.75" y="410.4" font-size="6.8" text-anchor="end" font-weight="normal" fill="#505050" stroke="#505050" stroke-width="0.12">0</text>
<line x1="37.3" y1="391.05" x2="39.8" y2="391.05" stroke="#333" stroke-width="0.9"/>
<text x="33.75" y="393.45" font-size="6.8" text-anchor="end" font-weight="normal" fill="#505050" stroke="#505050" stroke-width="0.12">10</text>
<line x1="37.3" y1="374.1" x2="39.8" y2="374.1" stroke="#333" stroke-width="0.9"/>
<text x="33.75" y="376.5" font-size="6.8" text-anchor="end" font-weight="normal" fill="#505050" stroke="#505050" stroke-width="0.12">20</text>
<line x1="37.3" y1="357.15" x2="39.8" y2="357.15" stroke="#333" stroke-width="0.9"/>
<text x="33.75" y="359.54999999999995" font-size="6.8" text-anchor="end" font-weight="normal" fill="#505050" stroke="#505050" stroke-width="0.12">30</text>
<line x1="37.3" y1="340.2" x2="39.8" y2="340.2" stroke="#333" stroke-width="0.9"/>
<text x="33.75" y="342.59999999999997" font-size="6.8" text-anchor="end" font-weight="normal" fill="#505050" stroke="#505050" stroke-width="0.12">40</text>
<line x1="37.3" y1="323.25" x2="39.8" y2="323.25" stroke="#333" stroke-width="0.9"/>
<text x="33.75" y="325.65" font-size="6.8" text-anchor="end" font-weight="normal" fill="#505050" stroke="#505050" stroke-width="0.12">50</text>
<line x1="39.8" y1="416.25" x2="122.5" y2="416.25" stroke="#333" stroke-width="1.3"/>
<line x1="63.0" y1="416.25" x2="63.0" y2="418.45" stroke="#333" stroke-width="0.9"/>
<line x1="85.0" y1="416.25" x2="85.0" y2="418.45" stroke="#333" stroke-width="0.9"/>
<line x1="107.8" y1="416.25" x2="107.8" y2="418.45" stroke="#333" stroke-width="0.9"/>
<text x="63.2" y="427.2" font-size="6.3" text-anchor="middle" font-weight="normal" fill="#333" textLength="9.0" lengthAdjust="spacingAndGlyphs" stroke="#333" stroke-width="0.22">HD</text>
<text x="85.0" y="427.2" font-size="6.3" text-anchor="middle" font-weight="normal" fill="#333" textLength="11.3" lengthAdjust="spacingAndGlyphs" stroke="#333" stroke-width="0.22">WM</text>
<text x="107.8" y="427.2" font-size="6.3" text-anchor="middle" font-weight="normal" fill="#333" textLength="11.3" lengthAdjust="spacingAndGlyphs" stroke="#333" stroke-width="0.22">WM</text>
<text x="85.0" y="434.5" font-size="6.3" text-anchor="middle" font-weight="normal" fill="#333" textLength="21.5" lengthAdjust="spacingAndGlyphs" stroke="#333" stroke-width="0.22">no BTKi</text>
<text x="107.8" y="434.5" font-size="6.3" text-anchor="middle" font-weight="normal" fill="#333" textLength="12.5" lengthAdjust="spacingAndGlyphs" stroke="#333" stroke-width="0.22">BTKi</text>
<text transform="translate(21.3,368.8) rotate(-90)" x="0" y="0" font-size="7.9" text-anchor="middle" font-weight="normal" fill="#333" textLength="51.9" lengthAdjust="spacingAndGlyphs" stroke="#333" stroke-width="0.3">Peak thrombin (nM)</text>
<line x1="63.5" y1="360" x2="63.5" y2="393" stroke="#8a8a8a" stroke-width="0.8"/>
<line x1="56.0" y1="378.5" x2="70.5" y2="378.5" stroke="#1a1a1a" stroke-width="1.0"/>
<circle cx="65.6" cy="344.6" r="2.05" fill="#1b3960" stroke="#0c2240" stroke-width="0.55"/>
<circle cx="63.4" cy="347.8" r="2.05" fill="#1b3960" stroke="#0c2240" stroke-width="0.55"/>
<circle cx="60.8" cy="358.5" r="2.05" fill="#1b3960" stroke="#0c2240" stroke-width="0.55"/>
<circle cx="64.2" cy="358.1" r="2.05" fill="#1b3960" stroke="#0c2240" stroke-width="0.55"/>
<circle cx="58.2" cy="365.8" r="2.05" fill="#1b3960" stroke="#0c2240" stroke-width="0.55"/>
<circle cx="62.1" cy="367.0" r="2.05" fill="#1b3960" stroke="#0c2240" stroke-width="0.55"/>
<circle cx="66.3" cy="364.1" r="2.05" fill="#1b3960" stroke="#0c2240" stroke-width="0.55"/>
<circle cx="68.9" cy="365.8" r="2.05" fill="#1b3960" stroke="#0c2240" stroke-width="0.55"/>
<circle cx="65.5" cy="369.2" r="2.05" fill="#1b3960" stroke="#0c2240" stroke-width="0.55"/>
<circle cx="58.2" cy="379.0" r="2.05" fill="#1b3960" stroke="#0c2240" stroke-width="0.55"/>
<circle cx="62.9" cy="379.8" r="2.05" fill="#1b3960" stroke="#0c2240" stroke-width="0.55"/>
<circle cx="66.3" cy="378.1" r="2.05" fill="#1b3960" stroke="#0c2240" stroke-width="0.55"/>
<circle cx="68.9" cy="379.0" r="2.05" fill="#1b3960" stroke="#0c2240" stroke-width="0.55"/>
<circle cx="58.2" cy="385.8" r="2.05" fill="#1b3960" stroke="#0c2240" stroke-width="0.55"/>
<circle cx="58.2" cy="389.2" r="2.05" fill="#1b3960" stroke="#0c2240" stroke-width="0.55"/>
<circle cx="62.1" cy="384.5" r="2.05" fill="#1b3960" stroke="#0c2240" stroke-width="0.55"/>
<circle cx="66.3" cy="385.4" r="2.05" fill="#1b3960" stroke="#0c2240" stroke-width="0.55"/>
<circle cx="68.9" cy="385.8" r="2.05" fill="#1b3960" stroke="#0c2240" stroke-width="0.55"/>
<circle cx="60.8" cy="395.2" r="2.05" fill="#1b3960" stroke="#0c2240" stroke-width="0.55"/>
<circle cx="65.0" cy="393.5" r="2.05" fill="#1b3960" stroke="#0c2240" stroke-width="0.55"/>
<circle cx="68.0" cy="395.2" r="2.05" fill="#1b3960" stroke="#0c2240" stroke-width="0.55"/>
<circle cx="59.8" cy="397.7" r="2.05" fill="#1b3960" stroke="#0c2240" stroke-width="0.55"/>
<circle cx="60.5" cy="401.5" r="2.05" fill="#1b3960" stroke="#0c2240" stroke-width="0.55"/>
<rect x="82.1" y="380.0" width="4.4" height="4.4" fill="#b8102e" stroke="#7a0a1e" stroke-width="0.6"/>
<rect x="83.8" y="381.3" width="4.4" height="4.4" fill="#b8102e" stroke="#7a0a1e" stroke-width="0.6"/>
<rect x="80.1" y="383.3" width="4.4" height="4.4" fill="#b8102e" stroke="#7a0a1e" stroke-width="0.6"/>
<rect x="84.3" y="383.8" width="4.4" height="4.4" fill="#b8102e" stroke="#7a0a1e" stroke-width="0.6"/>
<rect x="86.0" y="382.8" width="4.4" height="4.4" fill="#b8102e" stroke="#7a0a1e" stroke-width="0.6"/>
<rect x="78.1" y="386.8" width="4.4" height="4.4" fill="#b8102e" stroke="#7a0a1e" stroke-width="0.6"/>
<rect x="82.1" y="386.8" width="4.4" height="4.4" fill="#b8102e" stroke="#7a0a1e" stroke-width="0.6"/>
<rect x="86.1" y="386.8" width="4.4" height="4.4" fill="#b8102e" stroke="#7a0a1e" stroke-width="0.6"/>
<rect x="88.39999999999999" y="387.3" width="4.4" height="4.4" fill="#b8102e" stroke="#7a0a1e" stroke-width="0.6"/>
<rect x="80.1" y="389.8" width="4.4" height="4.4" fill="#b8102e" stroke="#7a0a1e" stroke-width="0.6"/>
<rect x="84.1" y="390.3" width="4.4" height="4.4" fill="#b8102e" stroke="#7a0a1e" stroke-width="0.6"/>
<rect x="85.8" y="389.3" width="4.4" height="4.4" fill="#b8102e" stroke="#7a0a1e" stroke-width="0.6"/>
<rect x="80.1" y="393.2" width="4.4" height="4.4" fill="#b8102e" stroke="#7a0a1e" stroke-width="0.6"/>
<rect x="84.1" y="393.2" width="4.4" height="4.4" fill="#b8102e" stroke="#7a0a1e" stroke-width="0.6"/>
<line x1="79.5" y1="389.0" x2="91.5" y2="389.0" stroke="#5a0a18" stroke-width="0.8"/>
<rect x="100.45" y="383.65" width="4.1" height="4.1" fill="#4fa34a" stroke="#2a6a28" stroke-width="0.6"/>
<rect x="110.95" y="386.34999999999997" width="4.1" height="4.1" fill="#4fa34a" stroke="#2a6a28" stroke-width="0.6"/>
<rect x="105.55" y="402.45" width="4.1" height="4.1" fill="#4fa34a" stroke="#2a6a28" stroke-width="0.6"/>
<line x1="107.5" y1="382.5" x2="107.5" y2="402.5" stroke="#222" stroke-width="1.0"/>
<line x1="104.1" y1="382.5" x2="110.9" y2="382.5" stroke="#222" stroke-width="1.0"/>
<line x1="104.1" y1="402.5" x2="110.9" y2="402.5" stroke="#222" stroke-width="1.0"/>
<line x1="100.1" y1="392.5" x2="114.9" y2="392.5" stroke="#222" stroke-width="1.2"/>
<text x="128.7" y="319.79999999999995" font-size="11.6" font-weight="bold" fill="#000" stroke="#000" stroke-width="0.25">E</text>
<line x1="163.4" y1="320.8" x2="163.4" y2="416.25" stroke="#333" stroke-width="1.3"/>
<line x1="160.9" y1="408.0" x2="163.4" y2="408.0" stroke="#333" stroke-width="0.9"/>
<text x="157.5" y="410.4" font-size="6.8" text-anchor="end" font-weight="normal" fill="#505050" stroke="#505050" stroke-width="0.12">0</text>
<line x1="160.9" y1="386.8" x2="163.4" y2="386.8" stroke="#333" stroke-width="0.9"/>
<text x="157.5" y="389.2" font-size="6.8" text-anchor="end" font-weight="normal" fill="#505050" stroke="#505050" stroke-width="0.12">5</text>
<line x1="160.9" y1="365.6" x2="163.4" y2="365.6" stroke="#333" stroke-width="0.9"/>
<text x="157.5" y="368.0" font-size="6.8" text-anchor="end" font-weight="normal" fill="#505050" stroke="#505050" stroke-width="0.12">10</text>
<line x1="160.9" y1="344.4" x2="163.4" y2="344.4" stroke="#333" stroke-width="0.9"/>
<text x="157.5" y="346.79999999999995" font-size="6.8" text-anchor="end" font-weight="normal" fill="#505050" stroke="#505050" stroke-width="0.12">15</text>
<line x1="160.9" y1="323.2" x2="163.4" y2="323.2" stroke="#333" stroke-width="0.9"/>
<text x="157.5" y="325.59999999999997" font-size="6.8" text-anchor="end" font-weight="normal" fill="#505050" stroke="#505050" stroke-width="0.12">20</text>
<line x1="163.25" y1="416.25" x2="246.25" y2="416.25" stroke="#333" stroke-width="1.3"/>
<line x1="187.0" y1="416.25" x2="187.0" y2="418.45" stroke="#333" stroke-width="0.9"/>
<line x1="209.5" y1="416.25" x2="209.5" y2="418.45" stroke="#333" stroke-width="0.9"/>
<line x1="231.5" y1="416.25" x2="231.5" y2="418.45" stroke="#333" stroke-width="0.9"/>
<text x="187.0" y="427.2" font-size="6.3" text-anchor="middle" font-weight="normal" fill="#333" textLength="9.0" lengthAdjust="spacingAndGlyphs" stroke="#333" stroke-width="0.22">HD</text>
<text x="209.5" y="427.2" font-size="6.3" text-anchor="middle" font-weight="normal" fill="#333" textLength="11.3" lengthAdjust="spacingAndGlyphs" stroke="#333" stroke-width="0.22">WM</text>
<text x="231.5" y="427.2" font-size="6.3" text-anchor="middle" font-weight="normal" fill="#333" textLength="11.3" lengthAdjust="spacingAndGlyphs" stroke="#333" stroke-width="0.22">WM</text>
<text x="209.5" y="434.5" font-size="6.3" text-anchor="middle" font-weight="normal" fill="#333" textLength="21.5" lengthAdjust="spacingAndGlyphs" stroke="#333" stroke-width="0.22">no BTKi</text>
<text x="231.5" y="434.5" font-size="6.3" text-anchor="middle" font-weight="normal" fill="#333" textLength="12.5" lengthAdjust="spacingAndGlyphs" stroke="#333" stroke-width="0.22">BTKi</text>
<text transform="translate(145.3,368.9) rotate(-90)" x="0" y="0" font-size="7.9" text-anchor="middle" font-weight="normal" fill="#333" textLength="46.8" lengthAdjust="spacingAndGlyphs" stroke="#333" stroke-width="0.3">Velocity (nM/min)</text>
<circle cx="187.0" cy="345.4" r="1.8" fill="#1b3960" stroke="#0c2240" stroke-width="0.55"/>
<circle cx="187.0" cy="355.5" r="1.8" fill="#1b3960" stroke="#0c2240" stroke-width="0.55"/>
<circle cx="189.4" cy="360.9" r="1.8" fill="#1b3960" stroke="#0c2240" stroke-width="0.55"/>
<circle cx="187.0" cy="362.7" r="1.8" fill="#1b3960" stroke="#0c2240" stroke-width="0.55"/>
<circle cx="187.0" cy="371.7" r="1.8" fill="#1b3960" stroke="#0c2240" stroke-width="0.55"/>
<circle cx="182.0" cy="378.2" r="1.8" fill="#1b3960" stroke="#0c2240" stroke-width="0.55"/>
<circle cx="185.6" cy="375.8" r="1.8" fill="#1b3960" stroke="#0c2240" stroke-width="0.55"/>
<circle cx="190.3" cy="376.4" r="1.8" fill="#1b3960" stroke="#0c2240" stroke-width="0.55"/>
<circle cx="192.7" cy="378.5" r="1.8" fill="#1b3960" stroke="#0c2240" stroke-width="0.55"/>
<circle cx="187.5" cy="379.5" r="1.8" fill="#1b3960" stroke="#0c2240" stroke-width="0.55"/>
<circle cx="183.8" cy="387.8" r="1.8" fill="#1b3960" stroke="#0c2240" stroke-width="0.55"/>
<circle cx="189.1" cy="388.4" r="1.8" fill="#1b3960" stroke="#0c2240" stroke-width="0.55"/>
<circle cx="185.0" cy="392.6" r="1.8" fill="#1b3960" stroke="#0c2240" stroke-width="0.55"/>
<circle cx="190.3" cy="392.6" r="1.8" fill="#1b3960" stroke="#0c2240" stroke-width="0.55"/>
<circle cx="182.0" cy="396.2" r="1.8" fill="#1b3960" stroke="#0c2240" stroke-width="0.55"/>
<circle cx="192.7" cy="395.6" r="1.8" fill="#1b3960" stroke="#0c2240" stroke-width="0.55"/>
<circle cx="187.4" cy="398.5" r="1.8" fill="#1b3960" stroke="#0c2240" stroke-width="0.55"/>
<circle cx="181.4" cy="402.1" r="1.8" fill="#1b3960" stroke="#0c2240" stroke-width="0.55"/>
<circle cx="188.0" cy="401.5" r="1.8" fill="#1b3960" stroke="#0c2240" stroke-width="0.55"/>
<circle cx="192.7" cy="404.0" r="1.8" fill="#1b3960" stroke="#0c2240" stroke-width="0.55"/>
<circle cx="185.5" cy="383.0" r="1.8" fill="#1b3960" stroke="#0c2240" stroke-width="0.55"/>
<circle cx="190.5" cy="383.5" r="1.8" fill="#1b3960" stroke="#0c2240" stroke-width="0.55"/>
<line x1="187.5" y1="368.5" x2="187.5" y2="384.5" stroke="#333" stroke-width="0.9"/>
<line x1="183.8" y1="368.5" x2="191.0" y2="368.5" stroke="#1a1a1a" stroke-width="1.0"/>
<line x1="179.6" y1="384.5" x2="195.1" y2="384.5" stroke="#1a1a1a" stroke-width="1.0"/>
<rect x="203.8" y="389.3" width="4.4" height="4.4" fill="#b8102e" stroke="#7a0a1e" stroke-width="0.6"/>
<rect x="212.60000000000002" y="389.6" width="4.4" height="4.4" fill="#b8102e" stroke="#7a0a1e" stroke-width="0.6"/>
<rect x="201.8" y="392.6" width="4.4" height="4.4" fill="#b8102e" stroke="#7a0a1e" stroke-width="0.6"/>
<rect x="206.0" y="393.3" width="4.4" height="4.4" fill="#b8102e" stroke="#7a0a1e" stroke-width="0.6"/>
<rect x="210.10000000000002" y="393.0" width="4.4" height="4.4" fill="#b8102e" stroke="#7a0a1e" stroke-width="0.6"/>
<rect x="212.60000000000002" y="394.8" width="4.4" height="4.4" fill="#b8102e" stroke="#7a0a1e" stroke-width="0.6"/>
<rect x="208.3" y="395.8" width="4.4" height="4.4" fill="#b8102e" stroke="#7a0a1e" stroke-width="0.6"/>
<rect x="203.8" y="399.3" width="4.4" height="4.4" fill="#b8102e" stroke="#7a0a1e" stroke-width="0.6"/>
<rect x="207.60000000000002" y="399.6" width="4.4" height="4.4" fill="#b8102e" stroke="#7a0a1e" stroke-width="0.6"/>
<rect x="210.8" y="400.1" width="4.4" height="4.4" fill="#b8102e" stroke="#7a0a1e" stroke-width="0.6"/>
<rect x="223.95" y="392.05" width="4.1" height="4.1" fill="#4fa34a" stroke="#2a6a28" stroke-width="0.6"/>
<rect x="235.04999999999998" y="393.55" width="4.1" height="4.1" fill="#4fa34a" stroke="#2a6a28" stroke-width="0.6"/>
<rect x="229.25" y="404.34999999999997" width="4.1" height="4.1" fill="#4fa34a" stroke="#2a6a28" stroke-width="0.6"/>
<line x1="231.5" y1="392.5" x2="231.5" y2="405.5" stroke="#222" stroke-width="1.0"/>
<line x1="227.9" y1="392.5" x2="235.1" y2="392.5" stroke="#222" stroke-width="1.0"/>
<line x1="227.9" y1="405.5" x2="235.1" y2="405.5" stroke="#222" stroke-width="1.0"/>
<line x1="224.3" y1="399.5" x2="238.7" y2="399.5" stroke="#222" stroke-width="1.2"/>
<text x="6.7" y="453.0" font-size="11.6" font-weight="bold" fill="#000" stroke="#000" stroke-width="0.25">F</text>
<line x1="39.8" y1="458.3" x2="39.8" y2="554.25" stroke="#333" stroke-width="1.3"/>
<line x1="37.3" y1="545.5" x2="39.8" y2="545.5" stroke="#333" stroke-width="0.9"/>
<text x="33.75" y="547.9" font-size="6.8" text-anchor="end" font-weight="normal" fill="#505050" stroke="#505050" stroke-width="0.12">0</text>
<line x1="37.3" y1="524.3" x2="39.8" y2="524.3" stroke="#333" stroke-width="0.9"/>
<text x="33.75" y="526.6999999999999" font-size="6.8" text-anchor="end" font-weight="normal" fill="#505050" stroke="#505050" stroke-width="0.12">50</text>
<line x1="37.3" y1="503.1" x2="39.8" y2="503.1" stroke="#333" stroke-width="0.9"/>
<text x="33.75" y="505.5" font-size="6.8" text-anchor="end" font-weight="normal" fill="#505050" stroke="#505050" stroke-width="0.12">100</text>
<line x1="37.3" y1="481.9" x2="39.8" y2="481.9" stroke="#333" stroke-width="0.9"/>
<text x="33.75" y="484.29999999999995" font-size="6.8" text-anchor="end" font-weight="normal" fill="#505050" stroke="#505050" stroke-width="0.12">150</text>
<line x1="37.3" y1="460.7" x2="39.8" y2="460.7" stroke="#333" stroke-width="0.9"/>
<text x="33.75" y="463.09999999999997" font-size="6.8" text-anchor="end" font-weight="normal" fill="#505050" stroke="#505050" stroke-width="0.12">200</text>
<line x1="39.8" y1="554.25" x2="122.5" y2="554.25" stroke="#333" stroke-width="1.3"/>
<line x1="63.0" y1="554.25" x2="63.0" y2="556.45" stroke="#333" stroke-width="0.9"/>
<line x1="85.5" y1="554.25" x2="85.5" y2="556.45" stroke="#333" stroke-width="0.9"/>
<line x1="107.8" y1="554.25" x2="107.8" y2="556.45" stroke="#333" stroke-width="0.9"/>
<text x="63.2" y="565.3" font-size="6.3" text-anchor="middle" font-weight="normal" fill="#333" textLength="9.0" lengthAdjust="spacingAndGlyphs" stroke="#333" stroke-width="0.22">HD</text>
<text x="85.4" y="565.3" font-size="6.3" text-anchor="middle" font-weight="normal" fill="#333" textLength="11.3" lengthAdjust="spacingAndGlyphs" stroke="#333" stroke-width="0.22">WM</text>
<text x="107.6" y="565.3" font-size="6.3" text-anchor="middle" font-weight="normal" fill="#333" textLength="11.3" lengthAdjust="spacingAndGlyphs" stroke="#333" stroke-width="0.22">WM</text>
<text x="85.4" y="572.6" font-size="6.3" text-anchor="middle" font-weight="normal" fill="#333" textLength="21.5" lengthAdjust="spacingAndGlyphs" stroke="#333" stroke-width="0.22">no BTKi</text>
<text x="107.6" y="572.6" font-size="6.3" text-anchor="middle" font-weight="normal" fill="#333" textLength="12.5" lengthAdjust="spacingAndGlyphs" stroke="#333" stroke-width="0.22">BTKi</text>
<text transform="translate(17.7,506.0) rotate(-90)" x="0" y="0" font-size="7.9" text-anchor="middle" font-weight="normal" fill="#333" textLength="36.6" lengthAdjust="spacingAndGlyphs" stroke="#333" stroke-width="0.3">ETP (nM*min)</text>
<line x1="63.0" y1="492.3" x2="63.0" y2="520" stroke="#888" stroke-width="0.8"/>
<circle cx="61.9" cy="482.2" r="2.05" fill="#1b3960" stroke="#0c2240" stroke-width="0.55"/>
<circle cx="64.7" cy="484.6" r="2.05" fill="#1b3960" stroke="#0c2240" stroke-width="0.55"/>
<circle cx="60.9" cy="489.7" r="2.05" fill="#1b3960" stroke="#0c2240" stroke-width="0.55"/>
<circle cx="65.1" cy="489.7" r="2.05" fill="#1b3960" stroke="#0c2240" stroke-width="0.55"/>
<circle cx="65.5" cy="497.0" r="2.05" fill="#1b3960" stroke="#0c2240" stroke-width="0.55"/>
<circle cx="67.5" cy="497.7" r="2.05" fill="#1b3960" stroke="#0c2240" stroke-width="0.55"/>
<circle cx="57.6" cy="501.0" r="2.05" fill="#1b3960" stroke="#0c2240" stroke-width="0.55"/>
<circle cx="60.9" cy="501.0" r="2.05" fill="#1b3960" stroke="#0c2240" stroke-width="0.55"/>
<circle cx="64.0" cy="502.5" r="2.05" fill="#1b3960" stroke="#0c2240" stroke-width="0.55"/>
<circle cx="68.4" cy="502.0" r="2.05" fill="#1b3960" stroke="#0c2240" stroke-width="0.55"/>
<circle cx="61.5" cy="504.5" r="2.05" fill="#1b3960" stroke="#0c2240" stroke-width="0.55"/>
<circle cx="66.0" cy="505.5" r="2.05" fill="#1b3960" stroke="#0c2240" stroke-width="0.55"/>
<circle cx="67.0" cy="511.3" r="2.05" fill="#1b3960" stroke="#0c2240" stroke-width="0.55"/>
<circle cx="63.5" cy="509.0" r="2.05" fill="#1b3960" stroke="#0c2240" stroke-width="0.55"/>
<circle cx="59.5" cy="514.2" r="2.05" fill="#1b3960" stroke="#0c2240" stroke-width="0.55"/>
<circle cx="63.3" cy="515.1" r="2.05" fill="#1b3960" stroke="#0c2240" stroke-width="0.55"/>
<circle cx="66.0" cy="516.0" r="2.05" fill="#1b3960" stroke="#0c2240" stroke-width="0.55"/>
<circle cx="67.5" cy="518.4" r="2.05" fill="#1b3960" stroke="#0c2240" stroke-width="0.55"/>
<circle cx="59.5" cy="521.2" r="2.05" fill="#1b3960" stroke="#0c2240" stroke-width="0.55"/>
<circle cx="62.8" cy="520.5" r="2.05" fill="#1b3960" stroke="#0c2240" stroke-width="0.55"/>
<circle cx="66.6" cy="524.0" r="2.05" fill="#1b3960" stroke="#0c2240" stroke-width="0.55"/>
<circle cx="64.0" cy="523.0" r="2.05" fill="#1b3960" stroke="#0c2240" stroke-width="0.55"/>
<circle cx="62.3" cy="528.7" r="2.05" fill="#1b3960" stroke="#0c2240" stroke-width="0.55"/>
<circle cx="58.5" cy="508.0" r="2.05" fill="#1b3960" stroke="#0c2240" stroke-width="0.55"/>
<circle cx="68.0" cy="508.5" r="2.05" fill="#1b3960" stroke="#0c2240" stroke-width="0.55"/>
<circle cx="61.0" cy="517.5" r="2.05" fill="#1b3960" stroke="#0c2240" stroke-width="0.55"/>
<line x1="63.0" y1="493.0" x2="63.0" y2="519" stroke="#8a8a8a" stroke-width="0.8"/>
<line x1="59.0" y1="493.0" x2="67.0" y2="493.0" stroke="#222" stroke-width="1.0"/>
<line x1="55.8" y1="506.0" x2="70.8" y2="506.0" stroke="#222" stroke-width="1.1"/>
<rect x="81.8" y="506.8" width="4.4" height="4.4" fill="#b8102e" stroke="#7a0a1e" stroke-width="0.6"/>
<rect x="84.8" y="506.3" width="4.4" height="4.4" fill="#b8102e" stroke="#7a0a1e" stroke-width="0.6"/>
<rect x="78.39999999999999" y="510.3" width="4.4" height="4.4" fill="#b8102e" stroke="#7a0a1e" stroke-width="0.6"/>
<rect x="82.3" y="510.00000000000006" width="4.4" height="4.4" fill="#b8102e" stroke="#7a0a1e" stroke-width="0.6"/>
<rect x="85.8" y="509.6" width="4.4" height="4.4" fill="#b8102e" stroke="#7a0a1e" stroke-width="0.6"/>
<rect x="88.3" y="509.3" width="4.4" height="4.4" fill="#b8102e" stroke="#7a0a1e" stroke-width="0.6"/>
<rect x="80.3" y="511.8" width="4.4" height="4.4" fill="#b8102e" stroke="#7a0a1e" stroke-width="0.6"/>
<rect x="84.3" y="512.3" width="4.4" height="4.4" fill="#b8102e" stroke="#7a0a1e" stroke-width="0.6"/>
<rect x="85.0" y="516.3" width="4.4" height="4.4" fill="#b8102e" stroke="#7a0a1e" stroke-width="0.6"/>
<rect x="83.6" y="520.0999999999999" width="4.4" height="4.4" fill="#b8102e" stroke="#7a0a1e" stroke-width="0.6"/>
<rect x="81.8" y="524.3" width="4.4" height="4.4" fill="#b8102e" stroke="#7a0a1e" stroke-width="0.6"/>
<line x1="84.2" y1="515.3" x2="92.9" y2="515.3" stroke="#222" stroke-width="1.0"/>
<rect x="100.35000000000001" y="504.45" width="4.1" height="4.1" fill="#4fa34a" stroke="#2a6a28" stroke-width="0.6"/>
<rect x="110.75" y="507.25" width="4.1" height="4.1" fill="#4fa34a" stroke="#2a6a28" stroke-width="0.6"/>
<rect x="105.25" y="534.25" width="4.1" height="4.1" fill="#4fa34a" stroke="#2a6a28" stroke-width="0.6"/>
<line x1="107.5" y1="501.5" x2="107.5" y2="534.5" stroke="#222" stroke-width="1.0"/>
<line x1="103.9" y1="501.5" x2="111.1" y2="501.5" stroke="#222" stroke-width="1.0"/>
<line x1="103.9" y1="534.5" x2="111.1" y2="534.5" stroke="#222" stroke-width="1.0"/>
<line x1="100.2" y1="517.5" x2="114.8" y2="517.5" stroke="#222" stroke-width="1.2"/>
<text x="128.1" y="453.0" font-size="11.6" font-weight="bold" fill="#000" stroke="#000" stroke-width="0.25">G</text>
<line x1="163.75" y1="458.3" x2="163.75" y2="554.25" stroke="#333" stroke-width="1.3"/>
<line x1="161.25" y1="545.0" x2="163.75" y2="545.0" stroke="#333" stroke-width="0.9"/>
<text x="158.0" y="547.4" font-size="6.8" text-anchor="end" font-weight="normal" fill="#505050" stroke="#505050" stroke-width="0.12">0</text>
<line x1="161.25" y1="517.15" x2="163.75" y2="517.15" stroke="#333" stroke-width="0.9"/>
<text x="158.0" y="519.55" font-size="6.8" text-anchor="end" font-weight="normal" fill="#505050" stroke="#505050" stroke-width="0.12">50</text>
<line x1="161.25" y1="489.3" x2="163.75" y2="489.3" stroke="#333" stroke-width="0.9"/>
<text x="158.0" y="491.7" font-size="6.8" text-anchor="end" font-weight="normal" fill="#505050" stroke="#505050" stroke-width="0.12">100</text>
<line x1="161.25" y1="461.45" x2="163.75" y2="461.45" stroke="#333" stroke-width="0.9"/>
<text x="158.0" y="463.84999999999997" font-size="6.8" text-anchor="end" font-weight="normal" fill="#505050" stroke="#505050" stroke-width="0.12">150</text>
<line x1="163.75" y1="554.25" x2="246.25" y2="554.25" stroke="#333" stroke-width="1"/>
<line x1="170.75" y1="554.25" x2="170.75" y2="556.5" stroke="#333" stroke-width="0.9"/>
<text x="170.75" y="565.6" font-size="6.8" text-anchor="middle" font-weight="normal" fill="#505050" stroke="#505050" stroke-width="0.12">0</text>
<line x1="185.3" y1="554.25" x2="185.3" y2="556.5" stroke="#333" stroke-width="0.9"/>
<text x="185.3" y="565.6" font-size="6.8" text-anchor="middle" font-weight="normal" fill="#505050" stroke="#505050" stroke-width="0.12">20</text>
<line x1="199.85" y1="554.25" x2="199.85" y2="556.5" stroke="#333" stroke-width="0.9"/>
<text x="199.85" y="565.6" font-size="6.8" text-anchor="middle" font-weight="normal" fill="#505050" stroke="#505050" stroke-width="0.12">40</text>
<line x1="214.4" y1="554.25" x2="214.4" y2="556.5" stroke="#333" stroke-width="0.9"/>
<text x="214.4" y="565.6" font-size="6.8" text-anchor="middle" font-weight="normal" fill="#505050" stroke="#505050" stroke-width="0.12">60</text>
<line x1="228.95" y1="554.25" x2="228.95" y2="556.5" stroke="#333" stroke-width="0.9"/>
<text x="228.95" y="565.6" font-size="6.8" text-anchor="middle" font-weight="normal" fill="#505050" stroke="#505050" stroke-width="0.12">80</text>
<line x1="243.5" y1="554.25" x2="243.5" y2="556.5" stroke="#333" stroke-width="0.9"/>
<text x="243.5" y="565.6" font-size="6.8" text-anchor="middle" font-weight="normal" fill="#505050" stroke="#505050" stroke-width="0.12">100</text>
<text x="205.6" y="577.4" font-size="8.4" text-anchor="middle" font-weight="normal" fill="#333" textLength="26.3" lengthAdjust="spacingAndGlyphs" stroke="#333" stroke-width="0.3">IgM (g/L)</text>
<text transform="translate(141.8,506.0) rotate(-90)" x="0" y="0" font-size="7.9" text-anchor="middle" font-weight="normal" fill="#333" textLength="36.6" lengthAdjust="spacingAndGlyphs" stroke="#333" stroke-width="0.3">ETP (nM*min)</text>
<text x="189.4" y="471.8" font-size="6.4" text-anchor="start" font-weight="normal" fill="#333" stroke="#333" stroke-width="0.08">R</text>
<text x="193.6" y="468.4" font-size="3.8" text-anchor="start" font-weight="normal" fill="#333" stroke="#333" stroke-width="0.05">2</text>
<text x="196.2" y="471.8" font-size="6.4" text-anchor="start" font-weight="normal" fill="#333" textLength="24.3" lengthAdjust="spacingAndGlyphs" stroke="#333" stroke-width="0.08">= 0.034</text>
<path d="M172.5,497.5 Q181,502 187.5,500 T228.3,475.7" fill="none" stroke="#444" stroke-width="0.8" stroke-dasharray="1.1,1.3"/>
<path d="M172.5,521.3 Q181,516 187.5,516.3 T228.3,527.6" fill="none" stroke="#444" stroke-width="0.8" stroke-dasharray="1.1,1.3"/>
<line x1="173.2" y1="508.7" x2="228.3" y2="501.8" stroke="#3a3a3a" stroke-width="1.25"/>
<rect x="171.05" y="499.55" width="4.4" height="4.4" fill="#b8102e" stroke="#7a0a1e" stroke-width="0.6"/>
<rect x="171.8" y="502.05" width="4.4" height="4.4" fill="#b8102e" stroke="#7a0a1e" stroke-width="0.6"/>
<rect x="182.3" y="495.8" width="4.4" height="4.4" fill="#b8102e" stroke="#7a0a1e" stroke-width="0.6"/>
<rect x="189.05" y="499.8" width="4.4" height="4.4" fill="#b8102e" stroke="#7a0a1e" stroke-width="0.6"/>
<rect x="199.55" y="494.05" width="4.4" height="4.4" fill="#b8102e" stroke="#7a0a1e" stroke-width="0.6"/>
<rect x="226.05" y="505.8" width="4.4" height="4.4" fill="#b8102e" stroke="#7a0a1e" stroke-width="0.6"/>
<rect x="171.05" y="513.3" width="4.4" height="4.4" fill="#b8102e" stroke="#7a0a1e" stroke-width="0.6"/>
<rect x="181.05" y="517.8" width="4.4" height="4.4" fill="#b8102e" stroke="#7a0a1e" stroke-width="0.6"/>
<rect x="174.2" y="491.7" width="4.1" height="4.1" fill="#4fa34a" stroke="#2a6a28" stroke-width="0.6"/>
<rect x="171.95" y="532.2" width="4.1" height="4.1" fill="#4fa34a" stroke="#2a6a28" stroke-width="0.6"/>
<text x="272.3" y="185.0" font-size="11.6" font-weight="bold" fill="#000" stroke="#000" stroke-width="0.25">I</text>
<line x1="303.75" y1="181.8" x2="303.75" y2="278" stroke="#333" stroke-width="1.3"/>
<line x1="301.25" y1="267.5" x2="303.75" y2="267.5" stroke="#333" stroke-width="0.9"/>
<text x="298.0" y="269.9" font-size="6.8" text-anchor="end" font-weight="normal" fill="#505050" stroke="#505050" stroke-width="0.12">0</text>
<line x1="301.25" y1="246.9" x2="303.75" y2="246.9" stroke="#333" stroke-width="0.9"/>
<text x="298.0" y="249.3" font-size="6.8" text-anchor="end" font-weight="normal" fill="#505050" stroke="#505050" stroke-width="0.12">1</text>
<line x1="301.25" y1="226.3" x2="303.75" y2="226.3" stroke="#333" stroke-width="0.9"/>
<text x="298.0" y="228.70000000000002" font-size="6.8" text-anchor="end" font-weight="normal" fill="#505050" stroke="#505050" stroke-width="0.12">2</text>
<line x1="301.25" y1="205.7" x2="303.75" y2="205.7" stroke="#333" stroke-width="0.9"/>
<text x="298.0" y="208.1" font-size="6.8" text-anchor="end" font-weight="normal" fill="#505050" stroke="#505050" stroke-width="0.12">3</text>
<line x1="301.25" y1="185.1" x2="303.75" y2="185.1" stroke="#333" stroke-width="0.9"/>
<text x="298.0" y="187.5" font-size="6.8" text-anchor="end" font-weight="normal" fill="#505050" stroke="#505050" stroke-width="0.12">4</text>
<line x1="303.75" y1="278" x2="386.25" y2="278" stroke="#333" stroke-width="1.3"/>
<line x1="317.0" y1="278" x2="317.0" y2="280.2" stroke="#333" stroke-width="0.9"/>
<line x1="335.0" y1="278" x2="335.0" y2="280.2" stroke="#333" stroke-width="0.9"/>
<line x1="356.5" y1="278" x2="356.5" y2="280.2" stroke="#333" stroke-width="0.9"/>
<line x1="374.5" y1="278" x2="374.5" y2="280.2" stroke="#333" stroke-width="0.9"/>
<text x="317.0" y="288.8" font-size="6.3" text-anchor="middle" font-weight="normal" fill="#333" textLength="9.0" lengthAdjust="spacingAndGlyphs" stroke="#333" stroke-width="0.22">HD</text>
<text x="335.0" y="288.8" font-size="6.3" text-anchor="middle" font-weight="normal" fill="#333" textLength="9.0" lengthAdjust="spacingAndGlyphs" stroke="#333" stroke-width="0.22">HD</text>
<text x="356.5" y="288.8" font-size="6.3" text-anchor="middle" font-weight="normal" fill="#333" textLength="11.3" lengthAdjust="spacingAndGlyphs" stroke="#333" stroke-width="0.22">WM</text>
<text x="374.5" y="288.8" font-size="6.3" text-anchor="middle" font-weight="normal" fill="#333" textLength="11.3" lengthAdjust="spacingAndGlyphs" stroke="#333" stroke-width="0.22">WM</text>
<text x="317.0" y="296.3" font-size="6.3" text-anchor="middle" font-weight="normal" fill="#333" textLength="9.0" lengthAdjust="spacingAndGlyphs" stroke="#333" stroke-width="0.22">HD</text>
<text x="335.0" y="296.3" font-size="6.3" text-anchor="middle" font-weight="normal" fill="#333" textLength="11.3" lengthAdjust="spacingAndGlyphs" stroke="#333" stroke-width="0.22">WM</text>
<text x="356.5" y="296.3" font-size="6.3" text-anchor="middle" font-weight="normal" fill="#333" textLength="9.0" lengthAdjust="spacingAndGlyphs" stroke="#333" stroke-width="0.22">HD</text>
<text x="374.5" y="296.3" font-size="6.3" text-anchor="middle" font-weight="normal" fill="#333" textLength="11.3" lengthAdjust="spacingAndGlyphs" stroke="#333" stroke-width="0.22">WM</text>
<text x="290.5" y="288.8" font-size="6.3" text-anchor="middle" font-weight="normal" fill="#333" textLength="12.0" lengthAdjust="spacingAndGlyphs" stroke="#333" stroke-width="0.22">PPP</text>
<text x="290.5" y="296.3" font-size="6.3" text-anchor="middle" font-weight="normal" fill="#333" textLength="12.0" lengthAdjust="spacingAndGlyphs" stroke="#333" stroke-width="0.22">WPs</text>
<text transform="translate(289.6,229.9) rotate(-90)" x="0" y="0" font-size="7.9" text-anchor="middle" font-weight="normal" fill="#333" textLength="38.5" lengthAdjust="spacingAndGlyphs" stroke="#333" stroke-width="0.3">Lag time (min)</text>
<circle cx="317" cy="208.4" r="2.7" fill="#a1abc2" stroke="#6f7b93" stroke-width="0.7"/>
<circle cx="313.6" cy="223" r="2.7" fill="#a1abc2" stroke="#6f7b93" stroke-width="0.7"/>
<circle cx="320.2" cy="223" r="2.7" fill="#a1abc2" stroke="#6f7b93" stroke-width="0.7"/>
<circle cx="317" cy="229.6" r="2.7" fill="#a1abc2" stroke="#6f7b93" stroke-width="0.7"/>
<circle cx="317" cy="238.3" r="2.7" fill="#a1abc2" stroke="#6f7b93" stroke-width="0.7"/>
<circle cx="317" cy="252.6" r="2.7" fill="#a1abc2" stroke="#6f7b93" stroke-width="0.7"/>
<line x1="317.5" y1="213.5" x2="317.5" y2="244.5" stroke="#8a8a8a" stroke-width="1.0"/>
<line x1="314.5" y1="213.5" x2="320.5" y2="213.5" stroke="#1a1a1a" stroke-width="1.0"/>
<line x1="314.5" y1="244.5" x2="320.5" y2="244.5" stroke="#1a1a1a" stroke-width="1.0"/>
<line x1="311.3" y1="229.5" x2="323.7" y2="229.5" stroke="#1a1a1a" stroke-width="1.2"/>
<circle cx="335" cy="208.4" r="2.7" fill="#1b3960" stroke="#0c2240" stroke-width="0.7"/>
<circle cx="331.6" cy="223" r="2.7" fill="#1b3960" stroke="#0c2240" stroke-width="0.7"/>
<circle cx="338.4" cy="223" r="2.7" fill="#1b3960" stroke="#0c2240" stroke-width="0.7"/>
<circle cx="335" cy="229.6" r="2.7" fill="#1b3960" stroke="#0c2240" stroke-width="0.7"/>
<circle cx="335" cy="238.3" r="2.7" fill="#1b3960" stroke="#0c2240" stroke-width="0.7"/>
<circle cx="335" cy="252.6" r="2.7" fill="#1b3960" stroke="#0c2240" stroke-width="0.7"/>
<line x1="335.5" y1="213.5" x2="335.5" y2="244.5" stroke="#8a8a8a" stroke-width="1.0"/>
<line x1="332.5" y1="213.5" x2="338.5" y2="213.5" stroke="#1a1a1a" stroke-width="1.0"/>
<line x1="332.5" y1="244.5" x2="338.5" y2="244.5" stroke="#1a1a1a" stroke-width="1.0"/>
<line x1="329.3" y1="229.5" x2="341.7" y2="229.5" stroke="#1a1a1a" stroke-width="1.2"/>
<rect x="350.7" y="205.4" width="5.2" height="5.2" fill="#e6a49d" stroke="#c27a72" stroke-width="0.7"/>
<rect x="357.09999999999997" y="205.4" width="5.2" height="5.2" fill="#e6a49d" stroke="#c27a72" stroke-width="0.7"/>
<rect x="353.9" y="226.70000000000002" width="5.2" height="5.2" fill="#e6a49d" stroke="#c27a72" stroke-width="0.7"/>
<rect x="353.9" y="235.4" width="5.2" height="5.2" fill="#e6a49d" stroke="#c27a72" stroke-width="0.7"/>
<rect x="354.0" y="250.0" width="5.0" height="5.0" fill="#4fa34a" stroke="#2a6a28" stroke-width="0.7"/>
<line x1="356.5" y1="205.5" x2="356.5" y2="243.5" stroke="#1a1a1a" stroke-width="1.0"/>
<line x1="353.5" y1="205.5" x2="359.5" y2="205.5" stroke="#1a1a1a" stroke-width="1.0"/>
<line x1="353.5" y1="243.5" x2="359.5" y2="243.5" stroke="#1a1a1a" stroke-width="1.0"/>
<line x1="350.3" y1="224.5" x2="362.7" y2="224.5" stroke="#1a1a1a" stroke-width="1.2"/>
<rect x="371.9" y="191.20000000000002" width="5.2" height="5.2" fill="#b8102e" stroke="#7a0a1e" stroke-width="0.7"/>
<rect x="367.9" y="205.4" width="5.2" height="5.2" fill="#b8102e" stroke="#7a0a1e" stroke-width="0.7"/>
<rect x="375.9" y="205.4" width="5.2" height="5.2" fill="#b8102e" stroke="#7a0a1e" stroke-width="0.7"/>
<rect x="371.9" y="213.70000000000002" width="5.2" height="5.2" fill="#b8102e" stroke="#7a0a1e" stroke-width="0.7"/>
<rect x="371.9" y="235.4" width="5.2" height="5.2" fill="#b8102e" stroke="#7a0a1e" stroke-width="0.7"/>
<rect x="372.0" y="250.0" width="5.0" height="5.0" fill="#4fa34a" stroke="#2a6a28" stroke-width="0.7"/>
<line x1="374.5" y1="197.5" x2="374.5" y2="240.5" stroke="#1a1a1a" stroke-width="1.0"/>
<line x1="371.5" y1="197.5" x2="377.5" y2="197.5" stroke="#1a1a1a" stroke-width="1.0"/>
<line x1="371.5" y1="240.5" x2="377.5" y2="240.5" stroke="#1a1a1a" stroke-width="1.0"/>
<line x1="368.3" y1="219.5" x2="380.7" y2="219.5" stroke="#1a1a1a" stroke-width="1.2"/>
<text x="401.9" y="185.70000000000002" font-size="11.6" font-weight="bold" fill="#000" stroke="#000" stroke-width="0.25">J</text>
<line x1="429.3" y1="181.8" x2="429.3" y2="278" stroke="#333" stroke-width="1.3"/>
<line x1="426.8" y1="267.5" x2="429.3" y2="267.5" stroke="#333" stroke-width="0.9"/>
<text x="423.0" y="269.9" font-size="6.8" text-anchor="end" font-weight="normal" fill="#505050" stroke="#505050" stroke-width="0.12">3.0</text>
<line x1="426.8" y1="253.75" x2="429.3" y2="253.75" stroke="#333" stroke-width="0.9"/>
<text x="423.0" y="256.15" font-size="6.8" text-anchor="end" font-weight="normal" fill="#505050" stroke="#505050" stroke-width="0.12">3.5</text>
<line x1="426.8" y1="240.0" x2="429.3" y2="240.0" stroke="#333" stroke-width="0.9"/>
<text x="423.0" y="242.4" font-size="6.8" text-anchor="end" font-weight="normal" fill="#505050" stroke="#505050" stroke-width="0.12">4.0</text>
<line x1="426.8" y1="226.25" x2="429.3" y2="226.25" stroke="#333" stroke-width="0.9"/>
<text x="423.0" y="228.65" font-size="6.8" text-anchor="end" font-weight="normal" fill="#505050" stroke="#505050" stroke-width="0.12">4.5</text>
<line x1="426.8" y1="212.5" x2="429.3" y2="212.5" stroke="#333" stroke-width="0.9"/>
<text x="423.0" y="214.9" font-size="6.8" text-anchor="end" font-weight="normal" fill="#505050" stroke="#505050" stroke-width="0.12">5.0</text>
<line x1="426.8" y1="198.75" x2="429.3" y2="198.75" stroke="#333" stroke-width="0.9"/>
<text x="423.0" y="201.15" font-size="6.8" text-anchor="end" font-weight="normal" fill="#505050" stroke="#505050" stroke-width="0.12">5.5</text>
<line x1="426.8" y1="185.0" x2="429.3" y2="185.0" stroke="#333" stroke-width="0.9"/>
<text x="423.0" y="187.4" font-size="6.8" text-anchor="end" font-weight="normal" fill="#505050" stroke="#505050" stroke-width="0.12">6.0</text>
<line x1="429.3" y1="278" x2="512.5" y2="278" stroke="#333" stroke-width="1.3"/>
<line x1="442.5" y1="278" x2="442.5" y2="280.2" stroke="#333" stroke-width="0.9"/>
<line x1="460.75" y1="278" x2="460.75" y2="280.2" stroke="#333" stroke-width="0.9"/>
<line x1="483.0" y1="278" x2="483.0" y2="280.2" stroke="#333" stroke-width="0.9"/>
<line x1="500.75" y1="278" x2="500.75" y2="280.2" stroke="#333" stroke-width="0.9"/>
<text x="442.5" y="288.8" font-size="6.3" text-anchor="middle" font-weight="normal" fill="#333" textLength="9.0" lengthAdjust="spacingAndGlyphs" stroke="#333" stroke-width="0.22">HD</text>
<text x="460.75" y="288.8" font-size="6.3" text-anchor="middle" font-weight="normal" fill="#333" textLength="9.0" lengthAdjust="spacingAndGlyphs" stroke="#333" stroke-width="0.22">HD</text>
<text x="483.0" y="288.8" font-size="6.3" text-anchor="middle" font-weight="normal" fill="#333" textLength="11.3" lengthAdjust="spacingAndGlyphs" stroke="#333" stroke-width="0.22">WM</text>
<text x="500.75" y="288.8" font-size="6.3" text-anchor="middle" font-weight="normal" fill="#333" textLength="11.3" lengthAdjust="spacingAndGlyphs" stroke="#333" stroke-width="0.22">WM</text>
<text x="442.5" y="296.3" font-size="6.3" text-anchor="middle" font-weight="normal" fill="#333" textLength="9.0" lengthAdjust="spacingAndGlyphs" stroke="#333" stroke-width="0.22">HD</text>
<text x="460.75" y="296.3" font-size="6.3" text-anchor="middle" font-weight="normal" fill="#333" textLength="11.3" lengthAdjust="spacingAndGlyphs" stroke="#333" stroke-width="0.22">WM</text>
<text x="483.0" y="296.3" font-size="6.3" text-anchor="middle" font-weight="normal" fill="#333" textLength="9.0" lengthAdjust="spacingAndGlyphs" stroke="#333" stroke-width="0.22">HD</text>
<text x="500.75" y="296.3" font-size="6.3" text-anchor="middle" font-weight="normal" fill="#333" textLength="11.3" lengthAdjust="spacingAndGlyphs" stroke="#333" stroke-width="0.22">WM</text>
<text x="416.0" y="289.6" font-size="7.4" text-anchor="middle" font-weight="normal" fill="#333" textLength="15.8" lengthAdjust="spacingAndGlyphs" stroke="#333" stroke-width="0.22">PPP</text>
<text x="416.0" y="297.1" font-size="7.4" text-anchor="middle" font-weight="normal" fill="#333" textLength="15.8" lengthAdjust="spacingAndGlyphs" stroke="#333" stroke-width="0.22">WPs</text>
<text transform="translate(409.4,230.0) rotate(-90)" x="0" y="0" font-size="7.9" text-anchor="middle" font-weight="normal" fill="#333" textLength="49.5" lengthAdjust="spacingAndGlyphs" stroke="#333" stroke-width="0.3">Time to peak (min)</text>
<circle cx="438.6" cy="211.5" r="2.7" fill="#a1abc2" stroke="#6f7b93" stroke-width="0.7"/>
<circle cx="446.4" cy="211.5" r="2.7" fill="#a1abc2" stroke="#6f7b93" stroke-width="0.7"/>
<circle cx="442.5" cy="211.5" r="2.7" fill="#a1abc2" stroke="#6f7b93" stroke-width="0.7"/>
<circle cx="440.6" cy="231.0" r="2.7" fill="#a1abc2" stroke="#6f7b93" stroke-width="0.7"/>
<circle cx="444.6" cy="231.0" r="2.7" fill="#a1abc2" stroke="#6f7b93" stroke-width="0.7"/>
<circle cx="442.5" cy="251.3" r="2.7" fill="#a1abc2" stroke="#6f7b93" stroke-width="0.7"/>
<line x1="442.5" y1="210.5" x2="442.5" y2="241.5" stroke="#1a1a1a" stroke-width="1.0"/>
<line x1="439.5" y1="210.5" x2="445.5" y2="210.5" stroke="#1a1a1a" stroke-width="1.0"/>
<line x1="439.5" y1="241.5" x2="445.5" y2="241.5" stroke="#1a1a1a" stroke-width="1.0"/>
<line x1="436.3" y1="225.5" x2="448.7" y2="225.5" stroke="#1a1a1a" stroke-width="1.2"/>
<circle cx="457" cy="192" r="2.7" fill="#1b3960" stroke="#0c2240" stroke-width="0.7"/>
<circle cx="464.5" cy="192" r="2.7" fill="#1b3960" stroke="#0c2240" stroke-width="0.7"/>
<circle cx="457" cy="213.8" r="2.7" fill="#1b3960" stroke="#0c2240" stroke-width="0.7"/>
<circle cx="464.5" cy="210.5" r="2.7" fill="#1b3960" stroke="#0c2240" stroke-width="0.7"/>
<circle cx="460.75" cy="231.3" r="2.7" fill="#1b3960" stroke="#0c2240" stroke-width="0.7"/>
<circle cx="460.75" cy="251.3" r="2.7" fill="#1b3960" stroke="#0c2240" stroke-width="0.7"/>
<line x1="460.5" y1="193.5" x2="460.5" y2="238.5" stroke="#1a1a1a" stroke-width="1.0"/>
<line x1="457.5" y1="193.5" x2="463.5" y2="193.5" stroke="#1a1a1a" stroke-width="1.0"/>
<line x1="457.5" y1="238.5" x2="463.5" y2="238.5" stroke="#1a1a1a" stroke-width="1.0"/>
<line x1="454.3" y1="215.5" x2="466.7" y2="215.5" stroke="#1a1a1a" stroke-width="1.2"/>
<rect x="476.15" y="189.4" width="5.2" height="5.2" fill="#e6a49d" stroke="#c27a72" stroke-width="0.7"/>
<rect x="484.15" y="189.4" width="5.2" height="5.2" fill="#e6a49d" stroke="#c27a72" stroke-width="0.7"/>
<rect x="480.4" y="208.70000000000002" width="5.2" height="5.2" fill="#e6a49d" stroke="#c27a72" stroke-width="0.7"/>
<rect x="476.15" y="227.4" width="5.2" height="5.2" fill="#e6a49d" stroke="#c27a72" stroke-width="0.7"/>
<rect x="484.15" y="228.70000000000002" width="5.2" height="5.2" fill="#e6a49d" stroke="#c27a72" stroke-width="0.7"/>
<rect x="480.5" y="248.8" width="5.0" height="5.0" fill="#4fa34a" stroke="#2a6a28" stroke-width="0.7"/>
<line x1="483.5" y1="195.5" x2="483.5" y2="242.5" stroke="#1a1a1a" stroke-width="1.0"/>
<line x1="480.5" y1="195.5" x2="486.5" y2="195.5" stroke="#1a1a1a" stroke-width="1.0"/>
<line x1="480.5" y1="242.5" x2="486.5" y2="242.5" stroke="#1a1a1a" stroke-width="1.0"/>
<line x1="477.3" y1="218.5" x2="489.7" y2="218.5" stroke="#1a1a1a" stroke-width="1.2"/>
<rect x="494.4" y="189.4" width="5.2" height="5.2" fill="#b8102e" stroke="#7a0a1e" stroke-width="0.7"/>
<rect x="501.9" y="189.4" width="5.2" height="5.2" fill="#b8102e" stroke="#7a0a1e" stroke-width="0.7"/>
<rect x="494.4" y="210.4" width="5.2" height="5.2" fill="#b8102e" stroke="#7a0a1e" stroke-width="0.7"/>
<rect x="501.9" y="208.70000000000002" width="5.2" height="5.2" fill="#b8102e" stroke="#7a0a1e" stroke-width="0.7"/>
<rect x="498.15" y="228.70000000000002" width="5.2" height="5.2" fill="#b8102e" stroke="#7a0a1e" stroke-width="0.7"/>
<rect x="498.25" y="248.8" width="5.0" height="5.0" fill="#4fa34a" stroke="#2a6a28" stroke-width="0.7"/>
<line x1="500.5" y1="193.5" x2="500.5" y2="238.5" stroke="#1a1a1a" stroke-width="1.0"/>
<line x1="497.5" y1="193.5" x2="503.5" y2="193.5" stroke="#1a1a1a" stroke-width="1.0"/>
<line x1="497.5" y1="238.5" x2="503.5" y2="238.5" stroke="#1a1a1a" stroke-width="1.0"/>
<line x1="494.3" y1="215.5" x2="506.7" y2="215.5" stroke="#1a1a1a" stroke-width="1.2"/>
<text x="272.1" y="319.79999999999995" font-size="11.6" font-weight="bold" fill="#000" stroke="#000" stroke-width="0.25">K</text>
<line x1="303.75" y1="320.0" x2="303.75" y2="416.25" stroke="#333" stroke-width="1.3"/>
<line x1="301.25" y1="406.5" x2="303.75" y2="406.5" stroke="#333" stroke-width="0.9"/>
<text x="298.0" y="408.9" font-size="6.8" text-anchor="end" font-weight="normal" fill="#505050" stroke="#505050" stroke-width="0.12">0</text>
<line x1="301.25" y1="378.75" x2="303.75" y2="378.75" stroke="#333" stroke-width="0.9"/>
<text x="298.0" y="381.15" font-size="6.8" text-anchor="end" font-weight="normal" fill="#505050" stroke="#505050" stroke-width="0.12">20</text>
<line x1="301.25" y1="351.0" x2="303.75" y2="351.0" stroke="#333" stroke-width="0.9"/>
<text x="298.0" y="353.4" font-size="6.8" text-anchor="end" font-weight="normal" fill="#505050" stroke="#505050" stroke-width="0.12">40</text>
<line x1="301.25" y1="323.25" x2="303.75" y2="323.25" stroke="#333" stroke-width="0.9"/>
<text x="298.0" y="325.65" font-size="6.8" text-anchor="end" font-weight="normal" fill="#505050" stroke="#505050" stroke-width="0.12">60</text>
<line x1="303.75" y1="416.25" x2="386.25" y2="416.25" stroke="#333" stroke-width="1.3"/>
<line x1="317.0" y1="416.25" x2="317.0" y2="418.45" stroke="#333" stroke-width="0.9"/>
<line x1="335.0" y1="416.25" x2="335.0" y2="418.45" stroke="#333" stroke-width="0.9"/>
<line x1="356.5" y1="416.25" x2="356.5" y2="418.45" stroke="#333" stroke-width="0.9"/>
<line x1="374.5" y1="416.25" x2="374.5" y2="418.45" stroke="#333" stroke-width="0.9"/>
<text x="317.0" y="428.3" font-size="6.3" text-anchor="middle" font-weight="normal" fill="#333" textLength="9.0" lengthAdjust="spacingAndGlyphs" stroke="#333" stroke-width="0.22">HD</text>
<text x="335.0" y="428.3" font-size="6.3" text-anchor="middle" font-weight="normal" fill="#333" textLength="9.0" lengthAdjust="spacingAndGlyphs" stroke="#333" stroke-width="0.22">HD</text>
<text x="356.5" y="428.3" font-size="6.3" text-anchor="middle" font-weight="normal" fill="#333" textLength="11.3" lengthAdjust="spacingAndGlyphs" stroke="#333" stroke-width="0.22">WM</text>
<text x="374.5" y="428.3" font-size="6.3" text-anchor="middle" font-weight="normal" fill="#333" textLength="11.3" lengthAdjust="spacingAndGlyphs" stroke="#333" stroke-width="0.22">WM</text>
<text x="317.0" y="435.8" font-size="6.3" text-anchor="middle" font-weight="normal" fill="#333" textLength="9.0" lengthAdjust="spacingAndGlyphs" stroke="#333" stroke-width="0.22">HD</text>
<text x="335.0" y="435.8" font-size="6.3" text-anchor="middle" font-weight="normal" fill="#333" textLength="11.3" lengthAdjust="spacingAndGlyphs" stroke="#333" stroke-width="0.22">WM</text>
<text x="356.5" y="435.8" font-size="6.3" text-anchor="middle" font-weight="normal" fill="#333" textLength="9.0" lengthAdjust="spacingAndGlyphs" stroke="#333" stroke-width="0.22">HD</text>
<text x="374.5" y="435.8" font-size="6.3" text-anchor="middle" font-weight="normal" fill="#333" textLength="11.3" lengthAdjust="spacingAndGlyphs" stroke="#333" stroke-width="0.22">WM</text>
<text x="292.0" y="428.3" font-size="6.3" text-anchor="middle" font-weight="normal" fill="#333" textLength="12.0" lengthAdjust="spacingAndGlyphs" stroke="#333" stroke-width="0.22">PPP</text>
<text x="292.0" y="435.8" font-size="6.3" text-anchor="middle" font-weight="normal" fill="#333" textLength="12.0" lengthAdjust="spacingAndGlyphs" stroke="#333" stroke-width="0.22">WPs</text>
<text transform="translate(285.3,368.8) rotate(-90)" x="0" y="0" font-size="7.9" text-anchor="middle" font-weight="normal" fill="#333" textLength="51.9" lengthAdjust="spacingAndGlyphs" stroke="#333" stroke-width="0.3">Peak thrombin (nM)</text>
<circle cx="313.5" cy="337.7" r="2.7" fill="#a1abc2" stroke="#6f7b93" stroke-width="0.7"/>
<circle cx="320.4" cy="338.5" r="2.7" fill="#a1abc2" stroke="#6f7b93" stroke-width="0.7"/>
<circle cx="313.5" cy="343.8" r="2.7" fill="#a1abc2" stroke="#6f7b93" stroke-width="0.7"/>
<circle cx="313.5" cy="353.8" r="2.7" fill="#a1abc2" stroke="#6f7b93" stroke-width="0.7"/>
<circle cx="320.4" cy="354.6" r="2.7" fill="#a1abc2" stroke="#6f7b93" stroke-width="0.7"/>
<circle cx="313.5" cy="360.0" r="2.7" fill="#a1abc2" stroke="#6f7b93" stroke-width="0.7"/>
<line x1="317.5" y1="339.5" x2="317.5" y2="357.5" stroke="#1a1a1a" stroke-width="1.0"/>
<line x1="314.5" y1="339.5" x2="320.5" y2="339.5" stroke="#1a1a1a" stroke-width="1.0"/>
<line x1="314.5" y1="357.5" x2="320.5" y2="357.5" stroke="#1a1a1a" stroke-width="1.0"/>
<line x1="311.3" y1="348.5" x2="323.7" y2="348.5" stroke="#1a1a1a" stroke-width="1.2"/>
<circle cx="335" cy="338" r="2.7" fill="#1b3960" stroke="#0c2240" stroke-width="0.7"/>
<circle cx="335" cy="344.5" r="2.7" fill="#1b3960" stroke="#0c2240" stroke-width="0.7"/>
<circle cx="331.2" cy="357.5" r="2.7" fill="#1b3960" stroke="#0c2240" stroke-width="0.7"/>
<circle cx="338.8" cy="358.8" r="2.7" fill="#1b3960" stroke="#0c2240" stroke-width="0.7"/>
<circle cx="331.2" cy="362.5" r="2.7" fill="#1b3960" stroke="#0c2240" stroke-width="0.7"/>
<circle cx="335" cy="351" r="2.7" fill="#1b3960" stroke="#0c2240" stroke-width="0.7"/>
<line x1="335.5" y1="342.5" x2="335.5" y2="361.5" stroke="#1a1a1a" stroke-width="1.0"/>
<line x1="332.5" y1="342.5" x2="338.5" y2="342.5" stroke="#1a1a1a" stroke-width="1.0"/>
<line x1="332.5" y1="361.5" x2="338.5" y2="361.5" stroke="#1a1a1a" stroke-width="1.0"/>
<line x1="329.3" y1="352.5" x2="341.7" y2="352.5" stroke="#1a1a1a" stroke-width="1.2"/>
<rect x="357.4" y="342.4" width="5.2" height="5.2" fill="#e6a49d" stroke="#c27a72" stroke-width="0.7"/>
<rect x="350.4" y="346.2" width="5.2" height="5.2" fill="#e6a49d" stroke="#c27a72" stroke-width="0.7"/>
<rect x="357.4" y="349.4" width="5.2" height="5.2" fill="#e6a49d" stroke="#c27a72" stroke-width="0.7"/>
<rect x="350.4" y="353.7" width="5.2" height="5.2" fill="#e6a49d" stroke="#c27a72" stroke-width="0.7"/>
<rect x="357.4" y="354.9" width="5.2" height="5.2" fill="#e6a49d" stroke="#c27a72" stroke-width="0.7"/>
<rect x="354.0" y="376.3" width="5.0" height="5.0" fill="#4fa34a" stroke="#2a6a28" stroke-width="0.7"/>
<line x1="356.5" y1="344.5" x2="356.5" y2="368.5" stroke="#1a1a1a" stroke-width="1.0"/>
<line x1="353.5" y1="344.5" x2="359.5" y2="344.5" stroke="#1a1a1a" stroke-width="1.0"/>
<line x1="353.5" y1="368.5" x2="359.5" y2="368.5" stroke="#1a1a1a" stroke-width="1.0"/>
<line x1="350.3" y1="356.5" x2="362.7" y2="356.5" stroke="#1a1a1a" stroke-width="1.2"/>
<rect x="371.9" y="341.9" width="5.2" height="5.2" fill="#b8102e" stroke="#7a0a1e" stroke-width="0.7"/>
<rect x="371.9" y="351.9" width="5.2" height="5.2" fill="#b8102e" stroke="#7a0a1e" stroke-width="0.7"/>
<rect x="367.9" y="356.2" width="5.2" height="5.2" fill="#b8102e" stroke="#7a0a1e" stroke-width="0.7"/>
<rect x="375.9" y="356.2" width="5.2" height="5.2" fill="#b8102e" stroke="#7a0a1e" stroke-width="0.7"/>
<rect x="371.9" y="359.9" width="5.2" height="5.2" fill="#b8102e" stroke="#7a0a1e" stroke-width="0.7"/>
<rect x="372.0" y="379.5" width="5.0" height="5.0" fill="#4fa34a" stroke="#2a6a28" stroke-width="0.7"/>
<line x1="374.5" y1="348.5" x2="374.5" y2="372.5" stroke="#1a1a1a" stroke-width="1.0"/>
<line x1="371.5" y1="348.5" x2="377.5" y2="348.5" stroke="#1a1a1a" stroke-width="1.0"/>
<line x1="371.5" y1="372.5" x2="377.5" y2="372.5" stroke="#1a1a1a" stroke-width="1.0"/>
<line x1="368.3" y1="358.5" x2="380.7" y2="358.5" stroke="#1a1a1a" stroke-width="1.2"/>
<text x="402.3" y="319.79999999999995" font-size="11.6" font-weight="bold" fill="#000" stroke="#000" stroke-width="0.25">L</text>
<line x1="429.25" y1="320.0" x2="429.25" y2="416.25" stroke="#333" stroke-width="1.3"/>
<line x1="426.75" y1="406.25" x2="429.25" y2="406.25" stroke="#333" stroke-width="0.9"/>
<text x="423.5" y="408.65" font-size="6.8" text-anchor="end" font-weight="normal" fill="#505050" stroke="#505050" stroke-width="0.12">0</text>
<line x1="426.75" y1="389.65" x2="429.25" y2="389.65" stroke="#333" stroke-width="0.9"/>
<text x="423.5" y="392.04999999999995" font-size="6.8" text-anchor="end" font-weight="normal" fill="#505050" stroke="#505050" stroke-width="0.12">5</text>
<line x1="426.75" y1="373.05" x2="429.25" y2="373.05" stroke="#333" stroke-width="0.9"/>
<text x="423.5" y="375.45" font-size="6.8" text-anchor="end" font-weight="normal" fill="#505050" stroke="#505050" stroke-width="0.12">10</text>
<line x1="426.75" y1="356.45" x2="429.25" y2="356.45" stroke="#333" stroke-width="0.9"/>
<text x="423.5" y="358.84999999999997" font-size="6.8" text-anchor="end" font-weight="normal" fill="#505050" stroke="#505050" stroke-width="0.12">15</text>
<line x1="426.75" y1="339.85" x2="429.25" y2="339.85" stroke="#333" stroke-width="0.9"/>
<text x="423.5" y="342.25" font-size="6.8" text-anchor="end" font-weight="normal" fill="#505050" stroke="#505050" stroke-width="0.12">20</text>
<line x1="426.75" y1="323.25" x2="429.25" y2="323.25" stroke="#333" stroke-width="0.9"/>
<text x="423.5" y="325.65" font-size="6.8" text-anchor="end" font-weight="normal" fill="#505050" stroke="#505050" stroke-width="0.12">25</text>
<line x1="429.25" y1="416.25" x2="512.5" y2="416.25" stroke="#333" stroke-width="1.3"/>
<line x1="442.5" y1="416.25" x2="442.5" y2="418.45" stroke="#333" stroke-width="0.9"/>
<line x1="460.75" y1="416.25" x2="460.75" y2="418.45" stroke="#333" stroke-width="0.9"/>
<line x1="483.0" y1="416.25" x2="483.0" y2="418.45" stroke="#333" stroke-width="0.9"/>
<line x1="500.75" y1="416.25" x2="500.75" y2="418.45" stroke="#333" stroke-width="0.9"/>
<text x="442.5" y="428.3" font-size="6.3" text-anchor="middle" font-weight="normal" fill="#333" textLength="9.0" lengthAdjust="spacingAndGlyphs" stroke="#333" stroke-width="0.22">HD</text>
<text x="460.75" y="428.3" font-size="6.3" text-anchor="middle" font-weight="normal" fill="#333" textLength="9.0" lengthAdjust="spacingAndGlyphs" stroke="#333" stroke-width="0.22">HD</text>
<text x="483.0" y="428.3" font-size="6.3" text-anchor="middle" font-weight="normal" fill="#333" textLength="11.3" lengthAdjust="spacingAndGlyphs" stroke="#333" stroke-width="0.22">WM</text>
<text x="500.75" y="428.3" font-size="6.3" text-anchor="middle" font-weight="normal" fill="#333" textLength="11.3" lengthAdjust="spacingAndGlyphs" stroke="#333" stroke-width="0.22">WM</text>
<text x="442.5" y="435.8" font-size="6.3" text-anchor="middle" font-weight="normal" fill="#333" textLength="9.0" lengthAdjust="spacingAndGlyphs" stroke="#333" stroke-width="0.22">HD</text>
<text x="460.75" y="435.8" font-size="6.3" text-anchor="middle" font-weight="normal" fill="#333" textLength="11.3" lengthAdjust="spacingAndGlyphs" stroke="#333" stroke-width="0.22">WM</text>
<text x="483.0" y="435.8" font-size="6.3" text-anchor="middle" font-weight="normal" fill="#333" textLength="9.0" lengthAdjust="spacingAndGlyphs" stroke="#333" stroke-width="0.22">HD</text>
<text x="500.75" y="435.8" font-size="6.3" text-anchor="middle" font-weight="normal" fill="#333" textLength="11.3" lengthAdjust="spacingAndGlyphs" stroke="#333" stroke-width="0.22">WM</text>
<text x="416.8" y="428.3" font-size="6.3" text-anchor="middle" font-weight="normal" fill="#333" textLength="12.0" lengthAdjust="spacingAndGlyphs" stroke="#333" stroke-width="0.22">PPP</text>
<text x="416.8" y="435.8" font-size="6.3" text-anchor="middle" font-weight="normal" fill="#333" textLength="12.0" lengthAdjust="spacingAndGlyphs" stroke="#333" stroke-width="0.22">WPs</text>
<text transform="translate(412.0,368.5) rotate(-90)" x="0" y="0" font-size="7.9" text-anchor="middle" font-weight="normal" fill="#333" textLength="46.6" lengthAdjust="spacingAndGlyphs" stroke="#333" stroke-width="0.3">Velocity (nM/min)</text>
<circle cx="442.5" cy="332.5" r="2.7" fill="#a1abc2" stroke="#6f7b93" stroke-width="0.7"/>
<circle cx="442.5" cy="352" r="2.7" fill="#a1abc2" stroke="#6f7b93" stroke-width="0.7"/>
<circle cx="438.3" cy="359.3" r="2.7" fill="#a1abc2" stroke="#6f7b93" stroke-width="0.7"/>
<circle cx="447" cy="358.3" r="2.7" fill="#a1abc2" stroke="#6f7b93" stroke-width="0.7"/>
<circle cx="442.5" cy="366.3" r="2.7" fill="#a1abc2" stroke="#6f7b93" stroke-width="0.7"/>
<circle cx="442.5" cy="370" r="2.7" fill="#a1abc2" stroke="#6f7b93" stroke-width="0.7"/>
<line x1="442.5" y1="343.5" x2="442.5" y2="368.5" stroke="#1a1a1a" stroke-width="1.0"/>
<line x1="439.5" y1="343.5" x2="445.5" y2="343.5" stroke="#1a1a1a" stroke-width="1.0"/>
<line x1="439.5" y1="368.5" x2="445.5" y2="368.5" stroke="#1a1a1a" stroke-width="1.0"/>
<line x1="436.3" y1="356.5" x2="448.7" y2="356.5" stroke="#1a1a1a" stroke-width="1.2"/>
<circle cx="460.5" cy="351.5" r="2.7" fill="#1b3960" stroke="#0c2240" stroke-width="0.7"/>
<circle cx="456.6" cy="359.6" r="2.7" fill="#1b3960" stroke="#0c2240" stroke-width="0.7"/>
<circle cx="464.3" cy="359.2" r="2.7" fill="#1b3960" stroke="#0c2240" stroke-width="0.7"/>
<circle cx="456.6" cy="368.0" r="2.7" fill="#1b3960" stroke="#0c2240" stroke-width="0.7"/>
<circle cx="464.3" cy="371.2" r="2.7" fill="#1b3960" stroke="#0c2240" stroke-width="0.7"/>
<circle cx="456.6" cy="375.0" r="2.7" fill="#1b3960" stroke="#0c2240" stroke-width="0.7"/>
<line x1="460.5" y1="356.5" x2="460.5" y2="372.5" stroke="#1a1a1a" stroke-width="1.0"/>
<line x1="457.5" y1="356.5" x2="463.5" y2="356.5" stroke="#1a1a1a" stroke-width="1.0"/>
<line x1="457.5" y1="372.5" x2="463.5" y2="372.5" stroke="#1a1a1a" stroke-width="1.0"/>
<line x1="454.3" y1="364.5" x2="466.7" y2="364.5" stroke="#1a1a1a" stroke-width="1.2"/>
<rect x="476.15" y="348.2" width="5.2" height="5.2" fill="#e6a49d" stroke="#c27a72" stroke-width="0.7"/>
<rect x="483.7" y="351.7" width="5.2" height="5.2" fill="#e6a49d" stroke="#c27a72" stroke-width="0.7"/>
<rect x="483.7" y="358.7" width="5.2" height="5.2" fill="#e6a49d" stroke="#c27a72" stroke-width="0.7"/>
<rect x="476.15" y="361.9" width="5.2" height="5.2" fill="#e6a49d" stroke="#c27a72" stroke-width="0.7"/>
<rect x="483.7" y="364.9" width="5.2" height="5.2" fill="#e6a49d" stroke="#c27a72" stroke-width="0.7"/>
<rect x="480.5" y="387.5" width="5.0" height="5.0" fill="#4fa34a" stroke="#2a6a28" stroke-width="0.7"/>
<line x1="483.5" y1="351.5" x2="483.5" y2="378.5" stroke="#1a1a1a" stroke-width="1.0"/>
<line x1="480.5" y1="351.5" x2="486.5" y2="351.5" stroke="#1a1a1a" stroke-width="1.0"/>
<line x1="480.5" y1="378.5" x2="486.5" y2="378.5" stroke="#1a1a1a" stroke-width="1.0"/>
<line x1="477.3" y1="364.5" x2="489.7" y2="364.5" stroke="#1a1a1a" stroke-width="1.2"/>
<rect x="498.15" y="341.9" width="5.2" height="5.2" fill="#b8102e" stroke="#7a0a1e" stroke-width="0.7"/>
<rect x="498.15" y="352.9" width="5.2" height="5.2" fill="#b8102e" stroke="#7a0a1e" stroke-width="0.7"/>
<rect x="494.4" y="365.4" width="5.2" height="5.2" fill="#b8102e" stroke="#7a0a1e" stroke-width="0.7"/>
<rect x="501.9" y="362.9" width="5.2" height="5.2" fill="#b8102e" stroke="#7a0a1e" stroke-width="0.7"/>
<rect x="501.9" y="369.2" width="5.2" height="5.2" fill="#b8102e" stroke="#7a0a1e" stroke-width="0.7"/>
<rect x="498.25" y="386.8" width="5.0" height="5.0" fill="#4fa34a" stroke="#2a6a28" stroke-width="0.7"/>
<line x1="500.5" y1="350.5" x2="500.5" y2="381.5" stroke="#1a1a1a" stroke-width="1.0"/>
<line x1="497.5" y1="350.5" x2="503.5" y2="350.5" stroke="#1a1a1a" stroke-width="1.0"/>
<line x1="497.5" y1="381.5" x2="503.5" y2="381.5" stroke="#1a1a1a" stroke-width="1.0"/>
<line x1="494.3" y1="367.5" x2="506.7" y2="367.5" stroke="#1a1a1a" stroke-width="1.2"/>
<text x="336.8" y="453.2" font-size="11.6" font-weight="bold" fill="#000" stroke="#000" stroke-width="0.25">M</text>
<line x1="367.5" y1="457.6" x2="367.5" y2="554.25" stroke="#333" stroke-width="1.3"/>
<line x1="365.0" y1="543.25" x2="367.5" y2="543.25" stroke="#333" stroke-width="0.9"/>
<text x="361.75" y="545.65" font-size="6.8" text-anchor="end" font-weight="normal" fill="#505050" stroke="#505050" stroke-width="0.12">0</text>
<line x1="365.0" y1="526.85" x2="367.5" y2="526.85" stroke="#333" stroke-width="0.9"/>
<text x="361.75" y="529.25" font-size="6.8" text-anchor="end" font-weight="normal" fill="#505050" stroke="#505050" stroke-width="0.12">50</text>
<line x1="365.0" y1="510.45" x2="367.5" y2="510.45" stroke="#333" stroke-width="0.9"/>
<text x="361.75" y="512.85" font-size="6.8" text-anchor="end" font-weight="normal" fill="#505050" stroke="#505050" stroke-width="0.12">100</text>
<line x1="365.0" y1="494.05" x2="367.5" y2="494.05" stroke="#333" stroke-width="0.9"/>
<text x="361.75" y="496.45" font-size="6.8" text-anchor="end" font-weight="normal" fill="#505050" stroke="#505050" stroke-width="0.12">150</text>
<line x1="365.0" y1="477.65" x2="367.5" y2="477.65" stroke="#333" stroke-width="0.9"/>
<text x="361.75" y="480.04999999999995" font-size="6.8" text-anchor="end" font-weight="normal" fill="#505050" stroke="#505050" stroke-width="0.12">200</text>
<line x1="365.0" y1="461.25" x2="367.5" y2="461.25" stroke="#333" stroke-width="0.9"/>
<text x="361.75" y="463.65" font-size="6.8" text-anchor="end" font-weight="normal" fill="#505050" stroke="#505050" stroke-width="0.12">250</text>
<line x1="367.5" y1="554.25" x2="449.5" y2="554.25" stroke="#333" stroke-width="1.3"/>
<line x1="380.0" y1="554.25" x2="380.0" y2="556.45" stroke="#333" stroke-width="0.9"/>
<line x1="397.5" y1="554.25" x2="397.5" y2="556.45" stroke="#333" stroke-width="0.9"/>
<line x1="419.5" y1="554.25" x2="419.5" y2="556.45" stroke="#333" stroke-width="0.9"/>
<line x1="437.5" y1="554.25" x2="437.5" y2="556.45" stroke="#333" stroke-width="0.9"/>
<text x="380.0" y="566.3" font-size="6.3" text-anchor="middle" font-weight="normal" fill="#333" textLength="9.0" lengthAdjust="spacingAndGlyphs" stroke="#333" stroke-width="0.22">HD</text>
<text x="397.5" y="566.3" font-size="6.3" text-anchor="middle" font-weight="normal" fill="#333" textLength="9.0" lengthAdjust="spacingAndGlyphs" stroke="#333" stroke-width="0.22">HD</text>
<text x="419.5" y="566.3" font-size="6.3" text-anchor="middle" font-weight="normal" fill="#333" textLength="11.3" lengthAdjust="spacingAndGlyphs" stroke="#333" stroke-width="0.22">WM</text>
<text x="437.5" y="566.3" font-size="6.3" text-anchor="middle" font-weight="normal" fill="#333" textLength="11.3" lengthAdjust="spacingAndGlyphs" stroke="#333" stroke-width="0.22">WM</text>
<text x="380.0" y="573.8" font-size="6.3" text-anchor="middle" font-weight="normal" fill="#333" textLength="9.0" lengthAdjust="spacingAndGlyphs" stroke="#333" stroke-width="0.22">HD</text>
<text x="397.5" y="573.8" font-size="6.3" text-anchor="middle" font-weight="normal" fill="#333" textLength="11.3" lengthAdjust="spacingAndGlyphs" stroke="#333" stroke-width="0.22">WM</text>
<text x="419.5" y="573.8" font-size="6.3" text-anchor="middle" font-weight="normal" fill="#333" textLength="9.0" lengthAdjust="spacingAndGlyphs" stroke="#333" stroke-width="0.22">HD</text>
<text x="437.5" y="573.8" font-size="6.3" text-anchor="middle" font-weight="normal" fill="#333" textLength="11.3" lengthAdjust="spacingAndGlyphs" stroke="#333" stroke-width="0.22">WM</text>
<text x="355.4" y="566.3" font-size="6.3" text-anchor="middle" font-weight="normal" fill="#333" textLength="12.0" lengthAdjust="spacingAndGlyphs" stroke="#333" stroke-width="0.22">PPP</text>
<text x="355.4" y="573.8" font-size="6.3" text-anchor="middle" font-weight="normal" fill="#333" textLength="12.0" lengthAdjust="spacingAndGlyphs" stroke="#333" stroke-width="0.22">WPs</text>
<text transform="translate(345.0,506.0) rotate(-90)" x="0" y="0" font-size="7.9" text-anchor="middle" font-weight="normal" fill="#333" textLength="36.6" lengthAdjust="spacingAndGlyphs" stroke="#333" stroke-width="0.3">ETP (nM*min)</text>
<polyline points="419.5,481.2 419.5,473.5 437.5,473.5 437.5,481.2" fill="none" stroke="#2a2a2a" stroke-width="1.0"/>
<text x="428.4" y="470.0" font-size="6.4" text-anchor="middle" font-weight="normal" fill="#333" textLength="19.8" lengthAdjust="spacingAndGlyphs" stroke="#333" stroke-width="0.1">0.0312</text>
<circle cx="383.5" cy="475.4" r="2.25" fill="#a1abc2" stroke="#6f7b93" stroke-width="0.7"/>
<circle cx="376.2" cy="480.0" r="2.25" fill="#a1abc2" stroke="#6f7b93" stroke-width="0.7"/>
<circle cx="383.8" cy="486.5" r="2.25" fill="#a1abc2" stroke="#6f7b93" stroke-width="0.7"/>
<circle cx="376.2" cy="489.2" r="2.25" fill="#a1abc2" stroke="#6f7b93" stroke-width="0.7"/>
<circle cx="383.8" cy="492.7" r="2.25" fill="#a1abc2" stroke="#6f7b93" stroke-width="0.7"/>
<circle cx="376.2" cy="495.4" r="2.25" fill="#a1abc2" stroke="#6f7b93" stroke-width="0.7"/>
<line x1="380.5" y1="479.5" x2="380.5" y2="493.5" stroke="#8a8a8a" stroke-width="1.0"/>
<line x1="377.5" y1="479.5" x2="383.5" y2="479.5" stroke="#1a1a1a" stroke-width="1.0"/>
<line x1="377.5" y1="493.5" x2="383.5" y2="493.5" stroke="#1a1a1a" stroke-width="1.0"/>
<line x1="374.3" y1="486.5" x2="386.7" y2="486.5" stroke="#1a1a1a" stroke-width="1.2"/>
<circle cx="394.5" cy="480.0" r="2.25" fill="#1b3960" stroke="#0c2240" stroke-width="0.7"/>
<circle cx="401.5" cy="484.2" r="2.25" fill="#1b3960" stroke="#0c2240" stroke-width="0.7"/>
<circle cx="394.5" cy="486.2" r="2.25" fill="#1b3960" stroke="#0c2240" stroke-width="0.7"/>
<circle cx="394.5" cy="492.3" r="2.25" fill="#1b3960" stroke="#0c2240" stroke-width="0.7"/>
<circle cx="401.5" cy="495.0" r="2.25" fill="#1b3960" stroke="#0c2240" stroke-width="0.7"/>
<circle cx="394.5" cy="497.3" r="2.25" fill="#1b3960" stroke="#0c2240" stroke-width="0.7"/>
<line x1="397.5" y1="482.5" x2="397.5" y2="495.5" stroke="#8a8a8a" stroke-width="1.0"/>
<line x1="394.5" y1="482.5" x2="400.5" y2="482.5" stroke="#1a1a1a" stroke-width="1.0"/>
<line x1="394.5" y1="495.5" x2="400.5" y2="495.5" stroke="#1a1a1a" stroke-width="1.0"/>
<line x1="391.3" y1="489.5" x2="403.7" y2="489.5" stroke="#1a1a1a" stroke-width="1.2"/>
<rect x="420.9" y="483.59999999999997" width="4.6" height="4.6" fill="#e6a49d" stroke="#c27a72" stroke-width="0.7"/>
<rect x="413.09999999999997" y="490.5" width="4.6" height="4.6" fill="#e6a49d" stroke="#c27a72" stroke-width="0.7"/>
<rect x="416.7" y="490.3" width="4.6" height="4.6" fill="#e6a49d" stroke="#c27a72" stroke-width="0.7"/>
<rect x="420.5" y="490.2" width="4.6" height="4.6" fill="#e6a49d" stroke="#c27a72" stroke-width="0.7"/>
<rect x="416.3" y="498.8" width="4.6" height="4.6" fill="#e6a49d" stroke="#c27a72" stroke-width="0.7"/>
<rect x="418.7" y="498.8" width="4.6" height="4.6" fill="#e6a49d" stroke="#c27a72" stroke-width="0.7"/>
<rect x="417.4" y="509.2" width="4.6" height="4.6" fill="#4fa34a" stroke="#2a6a28" stroke-width="0.7"/>
<line x1="419.5" y1="487.5" x2="419.5" y2="505.5" stroke="#1a1a1a" stroke-width="1.0"/>
<line x1="416.5" y1="487.5" x2="422.5" y2="487.5" stroke="#1a1a1a" stroke-width="1.0"/>
<line x1="416.5" y1="505.5" x2="422.5" y2="505.5" stroke="#1a1a1a" stroke-width="1.0"/>
<line x1="413.3" y1="495.5" x2="425.7" y2="495.5" stroke="#1a1a1a" stroke-width="1.2"/>
<rect x="431.2" y="486.4" width="4.6" height="4.6" fill="#b8102e" stroke="#7a0a1e" stroke-width="0.7"/>
<rect x="438.9" y="489.09999999999997" width="4.6" height="4.6" fill="#b8102e" stroke="#7a0a1e" stroke-width="0.7"/>
<rect x="435.09999999999997" y="491.2" width="4.6" height="4.6" fill="#b8102e" stroke="#7a0a1e" stroke-width="0.7"/>
<rect x="433.0" y="501.2" width="4.6" height="4.6" fill="#b8102e" stroke="#7a0a1e" stroke-width="0.7"/>
<rect x="437.5" y="501.59999999999997" width="4.6" height="4.6" fill="#b8102e" stroke="#7a0a1e" stroke-width="0.7"/>
<rect x="435.09999999999997" y="511.99999999999994" width="4.6" height="4.6" fill="#4fa34a" stroke="#2a6a28" stroke-width="0.7"/>
<line x1="437.5" y1="492.5" x2="437.5" y2="508.5" stroke="#1a1a1a" stroke-width="1.0"/>
<line x1="434.5" y1="492.5" x2="440.5" y2="492.5" stroke="#1a1a1a" stroke-width="1.0"/>
<line x1="434.5" y1="508.5" x2="440.5" y2="508.5" stroke="#1a1a1a" stroke-width="1.0"/>
<line x1="431.3" y1="499.5" x2="443.7" y2="499.5" stroke="#1a1a1a" stroke-width="1.2"/>
<rect x="0.5" y="0.5" width="519" height="585" fill="none" stroke="#5a5a5a" stroke-width="1"/>
</svg>
</body></html>
